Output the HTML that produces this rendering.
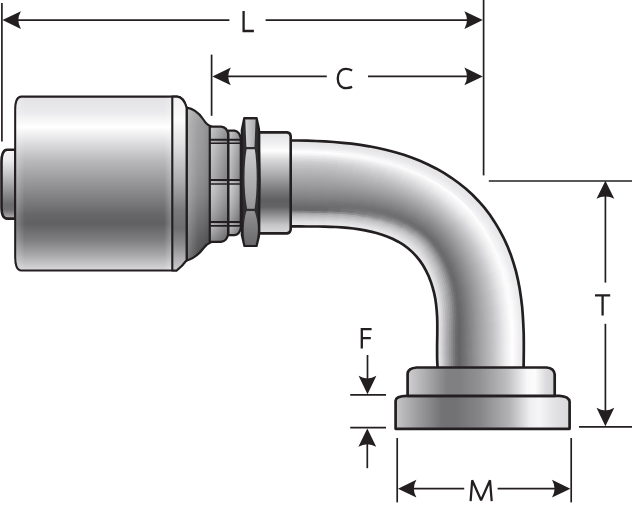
<!DOCTYPE html>
<html><head><meta charset="utf-8"><title>Fitting dimensions</title>
<style>
html,body{margin:0;padding:0;background:#fff;}
body{width:632px;height:508px;overflow:hidden;font-family:"Liberation Sans",sans-serif;}
svg{display:block;}
</style></head><body>
<svg width="632" height="508" viewBox="0 0 632 508">
<defs><linearGradient id="gFer" gradientUnits="userSpaceOnUse" x1="0" y1="96" x2="0" y2="271"><stop offset="0.000" stop-color="#e2e2e4"/><stop offset="0.091" stop-color="#eaeaec"/><stop offset="0.177" stop-color="#ffffff"/><stop offset="0.251" stop-color="#e4e4e6"/><stop offset="0.366" stop-color="#bababc"/><stop offset="0.537" stop-color="#8c8c8e"/><stop offset="0.680" stop-color="#666668"/><stop offset="0.731" stop-color="#616163"/><stop offset="0.823" stop-color="#7e7e80"/><stop offset="0.909" stop-color="#a8a8aa"/><stop offset="0.994" stop-color="#d8d8da"/></linearGradient><linearGradient id="gRing" gradientUnits="userSpaceOnUse" x1="0" y1="96" x2="0" y2="271"><stop offset="0.000" stop-color="#f0f0f2"/><stop offset="0.137" stop-color="#fcfcfc"/><stop offset="0.280" stop-color="#e0e0e2"/><stop offset="0.497" stop-color="#aaaaac"/><stop offset="0.651" stop-color="#7a7a7c"/><stop offset="0.754" stop-color="#6e6e70"/><stop offset="0.851" stop-color="#8c8c8e"/><stop offset="0.926" stop-color="#b0b0b2"/><stop offset="0.994" stop-color="#ccccce"/></linearGradient><linearGradient id="gStub" gradientUnits="userSpaceOnUse" x1="0" y1="150" x2="0" y2="218"><stop offset="0.000" stop-color="#f6f6f8"/><stop offset="0.132" stop-color="#eeeef0"/><stop offset="0.324" stop-color="#ccccce"/><stop offset="0.588" stop-color="#969698"/><stop offset="0.794" stop-color="#6c6c6e"/><stop offset="0.882" stop-color="#6e6e70"/><stop offset="1.000" stop-color="#b0b0b2"/></linearGradient><linearGradient id="gTaper" gradientUnits="userSpaceOnUse" x1="0" y1="107" x2="0" y2="259"><stop offset="0.000" stop-color="#a6a6a8"/><stop offset="0.118" stop-color="#9a9a9c"/><stop offset="0.283" stop-color="#969698"/><stop offset="0.447" stop-color="#8e8e90"/><stop offset="0.579" stop-color="#828284"/><stop offset="0.743" stop-color="#6a6a6c"/><stop offset="0.875" stop-color="#565658"/><stop offset="1.000" stop-color="#48484a"/></linearGradient><linearGradient id="gRib" gradientUnits="userSpaceOnUse" x1="0" y1="126" x2="0" y2="242"><stop offset="0.000" stop-color="#c8c8ca"/><stop offset="0.112" stop-color="#aaaaac"/><stop offset="0.147" stop-color="#bababc"/><stop offset="0.448" stop-color="#969698"/><stop offset="0.500" stop-color="#b0b0b2"/><stop offset="0.819" stop-color="#8a8a8c"/><stop offset="0.871" stop-color="#969698"/><stop offset="1.000" stop-color="#b0b0b2"/></linearGradient><linearGradient id="gCol" gradientUnits="userSpaceOnUse" x1="0" y1="132" x2="0" y2="234"><stop offset="0.000" stop-color="#e2e2e4"/><stop offset="0.088" stop-color="#ececee"/><stop offset="0.186" stop-color="#fdfdfd"/><stop offset="0.275" stop-color="#d8d8da"/><stop offset="0.422" stop-color="#aaaaac"/><stop offset="0.569" stop-color="#7a7a7c"/><stop offset="0.667" stop-color="#5f5f61"/><stop offset="0.735" stop-color="#646466"/><stop offset="0.824" stop-color="#969698"/><stop offset="0.912" stop-color="#c6c6c8"/><stop offset="1.000" stop-color="#dcdcde"/></linearGradient><linearGradient id="gFl1" gradientUnits="userSpaceOnUse" x1="407" y1="0" x2="555" y2="0"><stop offset="0.000" stop-color="#d0d0d2"/><stop offset="0.122" stop-color="#aeaeb0"/><stop offset="0.270" stop-color="#808082"/><stop offset="0.358" stop-color="#808082"/><stop offset="0.493" stop-color="#929294"/><stop offset="0.676" stop-color="#bebec0"/><stop offset="0.811" stop-color="#f8f8fa"/><stop offset="0.865" stop-color="#fcfcfc"/><stop offset="0.939" stop-color="#dcdcde"/><stop offset="1.000" stop-color="#d0d0d2"/></linearGradient><linearGradient id="gFl2" gradientUnits="userSpaceOnUse" x1="395" y1="0" x2="570" y2="0"><stop offset="0.000" stop-color="#c8c8ca"/><stop offset="0.114" stop-color="#a2a2a4"/><stop offset="0.269" stop-color="#727274"/><stop offset="0.349" stop-color="#727274"/><stop offset="0.486" stop-color="#868688"/><stop offset="0.657" stop-color="#b4b4b6"/><stop offset="0.771" stop-color="#eeeef0"/><stop offset="0.823" stop-color="#f6f6f8"/><stop offset="0.914" stop-color="#e2e2e4"/><stop offset="1.000" stop-color="#d8d8da"/></linearGradient><linearGradient id="gN1" gradientUnits="userSpaceOnUse" x1="0" y1="118" x2="0" y2="147"><stop offset="0.000" stop-color="#b0b0b2"/><stop offset="1.000" stop-color="#ceced0"/></linearGradient><linearGradient id="gN2" gradientUnits="userSpaceOnUse" x1="0" y1="149" x2="0" y2="209"><stop offset="0.000" stop-color="#ceced0"/><stop offset="0.517" stop-color="#b0b0b2"/><stop offset="1.000" stop-color="#969698"/></linearGradient><linearGradient id="gN3" gradientUnits="userSpaceOnUse" x1="0" y1="210" x2="0" y2="246"><stop offset="0.000" stop-color="#929294"/><stop offset="1.000" stop-color="#68686a"/></linearGradient><linearGradient id="gRib1" gradientUnits="userSpaceOnUse" x1="210" y1="0" x2="228" y2="0"><stop offset="0.000" stop-color="#c8c8ca"/><stop offset="1.000" stop-color="#8c8c8e"/></linearGradient><linearGradient id="gRib2" gradientUnits="userSpaceOnUse" x1="229" y1="0" x2="241" y2="0"><stop offset="0.000" stop-color="#ceced0"/><stop offset="1.000" stop-color="#8e8e90"/></linearGradient><linearGradient id="gRibV" gradientUnits="userSpaceOnUse" x1="0" y1="126" x2="0" y2="242"><stop offset="0" stop-color="#fff" stop-opacity="0.10"/><stop offset="0.14" stop-color="#000" stop-opacity="0.06"/><stop offset="0.15" stop-color="#fff" stop-opacity="0.12"/><stop offset="0.45" stop-color="#000" stop-opacity="0.10"/><stop offset="0.50" stop-color="#fff" stop-opacity="0.14"/><stop offset="0.82" stop-color="#000" stop-opacity="0.22"/><stop offset="0.86" stop-color="#000" stop-opacity="0.05"/><stop offset="1" stop-color="#000" stop-opacity="0.30"/></linearGradient><linearGradient id="gBevL" gradientUnits="userSpaceOnUse" x1="16" y1="0" x2="25" y2="0"><stop offset="0" stop-color="#fff" stop-opacity="0.22"/><stop offset="0.45" stop-color="#fff" stop-opacity="0.12"/><stop offset="1" stop-color="#fff" stop-opacity="0"/></linearGradient><linearGradient id="gBevR" gradientUnits="userSpaceOnUse" x1="164" y1="0" x2="171.5" y2="0"><stop offset="0" stop-color="#fff" stop-opacity="0"/><stop offset="1" stop-color="#fff" stop-opacity="0.24"/></linearGradient><linearGradient id="gN1h" gradientUnits="userSpaceOnUse" x1="245" y1="0" x2="256" y2="0"><stop offset="0.000" stop-color="#d4d4d6"/><stop offset="1.000" stop-color="#aaaaac"/></linearGradient></defs>
<rect width="632" height="508" fill="#fff"/>
<path d="M1.9,3 L1.9,141.5" stroke="#231f20" stroke-width="1.7" fill="none"/>
<path d="M483.6,0 L483.6,175.4" stroke="#231f20" stroke-width="1.7" fill="none"/>
<path d="M211.6,54.6 L211.6,115.8" stroke="#231f20" stroke-width="1.7" fill="none"/>
<path d="M488.8,181 L632,181" stroke="#231f20" stroke-width="1.7" fill="none"/>
<path d="M579,426.8 L632,426.8" stroke="#231f20" stroke-width="1.7" fill="none"/>
<path d="M350.2,394.8 L386,394.8" stroke="#231f20" stroke-width="1.7" fill="none"/>
<path d="M350.2,427.7 L386,427.7" stroke="#231f20" stroke-width="1.7" fill="none"/>
<path d="M397.2,438 L397.2,502.4" stroke="#231f20" stroke-width="1.7" fill="none"/>
<path d="M571.2,438 L571.2,502.4" stroke="#231f20" stroke-width="1.7" fill="none"/>
<path d="M17,20.1 L229.4,20.1" stroke="#231f20" stroke-width="1.7" fill="none"/>
<path d="M265.6,20.1 L468,20.1" stroke="#231f20" stroke-width="1.7" fill="none"/>
<path d="M2.5,20.1 L20.9,11.2 Q18.4,15.7 18.3,20.1 Q18.4,24.6 20.9,29 Z" fill="#231f20"/>
<path d="M482.8,20.1 L464.4,29 Q466.9,24.6 467,20.1 Q466.9,15.7 464.4,11.2 Z" fill="#231f20"/>
<path d="M226,76.4 L326.8,76.4" stroke="#231f20" stroke-width="1.7" fill="none"/>
<path d="M368,76.4 L468,76.4" stroke="#231f20" stroke-width="1.7" fill="none"/>
<path d="M212.4,76.4 L230.8,67.5 Q228.3,72 228.2,76.4 Q228.3,80.9 230.8,85.3 Z" fill="#231f20"/>
<path d="M482.8,76.4 L464.4,85.3 Q466.9,80.9 467,76.4 Q466.9,72 464.4,67.5 Z" fill="#231f20"/>
<path d="M605.4,196 L605.4,282.6" stroke="#231f20" stroke-width="1.7" fill="none"/>
<path d="M605.4,323.8 L605.4,412" stroke="#231f20" stroke-width="1.7" fill="none"/>
<path d="M605.4,180.7 L614.3,198.8 Q609.8,196.4 605.4,196.5 Q601,196.4 596.5,198.8 Z" fill="#231f20"/>
<path d="M605.4,426.2 L596.5,407.8 Q601,410.3 605.4,410.4 Q609.8,410.3 614.3,407.8 Z" fill="#231f20"/>
<path d="M367.5,355 L367.5,380" stroke="#231f20" stroke-width="1.7" fill="none"/>
<path d="M367.3,443 L367.3,468.2" stroke="#231f20" stroke-width="1.7" fill="none"/>
<path d="M367.5,394.2 L358.6,375.8 Q363.1,378.3 367.5,378.4 Q371.9,378.3 376.4,375.8 Z" fill="#231f20"/>
<path d="M367.3,428.4 L376.2,446.8 Q371.8,444.3 367.3,444.2 Q362.9,444.3 358.4,446.8 Z" fill="#231f20"/>
<path d="M412,488.7 L464.2,488.7" stroke="#231f20" stroke-width="1.7" fill="none"/>
<path d="M497.6,488.7 L556,488.7" stroke="#231f20" stroke-width="1.7" fill="none"/>
<path d="M398,488.7 L416.4,479.8 Q413.9,484.2 413.8,488.7 Q413.9,493.1 416.4,497.6 Z" fill="#231f20"/>
<path d="M570.4,488.7 L552,497.6 Q554.5,493.1 554.6,488.7 Q554.5,484.2 552,479.8 Z" fill="#231f20"/>
<path d="M243.6,11.1 V31 H253.9" stroke="#231f20" stroke-width="2.3" fill="none" stroke-linejoin="miter" stroke-linecap="butt"/>
<path d="M352.1,70.4 C350.2,69.4 348.2,68.85 345.9,68.85 C340.9,68.85 337.75,72.9 337.75,78.5 C337.75,84.1 340.9,88.15 346,88.15 C348.3,88.15 350.4,87.7 352.1,86.9" stroke="#231f20" stroke-width="2.3" fill="none" stroke-linejoin="miter" stroke-linecap="butt"/>
<path d="M595,295.3 H610.2 M602.6,295.3 V315.4" stroke="#231f20" stroke-width="2.3" fill="none" stroke-linejoin="miter" stroke-linecap="butt"/>
<path d="M371.6,329.1 H361.8 V348.5 M361.8,338.2 H370.8" stroke="#231f20" stroke-width="2.3" fill="none" stroke-linejoin="miter" stroke-linecap="butt"/>
<path d="M470.6,501.1 L472.2,480.3 L481.1,500.3 L490,480.3 L491.7,501.1" stroke="#231f20" stroke-width="2.25" fill="none" stroke-linejoin="bevel"/>
<clipPath id="tubeclip"><path d="M289.2,140.5 L298.1,140.5 L307.1,140.7 L316,141 L324.9,141.4 L333.8,142 L342.7,142.8 L351.5,143.7 L360.4,144.9 L369.2,146.3 L377.9,148 L386.6,150 L395.2,152.2 L403.8,154.8 L412.2,157.8 L420.5,161 L428.6,164.7 L436.5,168.7 L444.3,173.2 L451.8,178 L459,183.2 L465.9,188.8 L472.5,194.8 L478.7,201.2 L484.6,207.9 L490,215 L494.9,222.4 L499.5,230.1 L503.7,238 L507.4,246.1 L510.7,254.4 L513.5,262.8 L516,271.4 L518,280 L519.7,288.8 L521,297.6 L522.1,306.5 L522.8,315.3 L523.3,324.2 L523.7,333.2 L523.8,342.1 L523.8,351 L523.7,359.9 L523.6,368.8 L437.7,368.9 L437.3,363.1 L437.1,357.2 L437.1,351.3 L437.1,345.5 L437.2,339.6 L437.3,333.8 L437.3,327.9 L437.3,322 L437.1,316.2 L436.7,310.3 L436.1,304.5 L435.3,298.7 L434.1,292.9 L432.6,287.3 L430.8,281.7 L428.7,276.2 L426.1,270.9 L423.3,265.8 L420,260.9 L416.4,256.3 L412.4,252.1 L408,248.2 L403.2,244.7 L398.2,241.7 L393,239 L387.6,236.7 L382.1,234.8 L376.5,233 L370.8,231.6 L365,230.4 L359.3,229.4 L353.5,228.5 L347.6,227.9 L341.8,227.4 L335.9,227 L330.1,226.8 L324.2,226.6 L318.3,226.5 L312.5,226.5 L306.6,226.5 L300.8,226.4 L294.9,226.4 L289,226.3Z"/></clipPath>
<g clip-path="url(#tubeclip)" fill="none" stroke-linecap="butt">
<path d="M289.2,141.4 L298.1,141.5 L307,141.6 L315.9,141.9" stroke="#e3e3e5" stroke-width="3.2"/>
<path d="M307,141.6 L315.9,141.9 L324.7,142.3 L333.6,142.9" stroke="#e3e3e5" stroke-width="3.2"/>
<path d="M324.7,142.3 L333.6,142.9 L342.5,143.7 L351.3,144.6" stroke="#e3e3e5" stroke-width="3.2"/>
<path d="M342.5,143.7 L351.3,144.6 L360.1,145.8 L368.9,147.2" stroke="#e3e3e5" stroke-width="3.2"/>
<path d="M360.1,145.8 L368.9,147.2 L377.6,148.9 L386.2,150.8" stroke="#e3e3e5" stroke-width="3.2"/>
<path d="M377.6,148.9 L386.2,150.8 L394.8,153.1 L403.3,155.6" stroke="#e3e3e5" stroke-width="3.2"/>
<path d="M394.8,153.1 L403.3,155.6 L411.7,158.6 L420,161.8" stroke="#e4e4e6" stroke-width="3.2"/>
<path d="M411.7,158.6 L420,161.8 L428.1,165.5 L436,169.5" stroke="#e4e4e6" stroke-width="3.2"/>
<path d="M428.1,165.5 L436,169.5 L443.7,173.9 L451.2,178.7" stroke="#e4e4e6" stroke-width="3.2"/>
<path d="M443.7,173.9 L451.2,178.7 L458.4,183.9 L465.3,189.4" stroke="#e4e4e6" stroke-width="3.2"/>
<path d="M458.4,183.9 L465.3,189.4 L471.9,195.4 L478.1,201.8 L483.9,208.5" stroke="#e5e5e7" stroke-width="3.2"/>
<path d="M478.1,201.8 L483.9,208.5 L489.2,215.6 L494.2,223" stroke="#e5e5e7" stroke-width="3.2"/>
<path d="M489.2,215.6 L494.2,223 L498.7,230.6 L502.9,238.4" stroke="#e6e6e8" stroke-width="3.2"/>
<path d="M498.7,230.6 L502.9,238.4 L506.6,246.5 L509.8,254.8" stroke="#e6e6e8" stroke-width="3.2"/>
<path d="M506.6,246.5 L509.8,254.8 L512.7,263.2 L515.1,271.7" stroke="#e7e7e9" stroke-width="3.2"/>
<path d="M512.7,263.2 L515.1,271.7 L517.2,280.4 L518.8,289.1" stroke="#e8e8ea" stroke-width="3.2"/>
<path d="M517.2,280.4 L518.8,289.1 L520.1,297.9 L521.1,306.7" stroke="#e8e8ea" stroke-width="3.2"/>
<path d="M520.1,297.9 L521.1,306.7 L521.9,315.5 L522.4,324.4" stroke="#e9e9eb" stroke-width="3.2"/>
<path d="M521.9,315.5 L522.4,324.4 L522.7,333.3 L522.9,342.2" stroke="#e9e9eb" stroke-width="3.2"/>
<path d="M522.7,333.3 L522.9,342.2 L522.9,351.1 L522.8,359.9" stroke="#e9e9eb" stroke-width="3.2"/>
<path d="M522.9,351.1 L522.8,359.9 L522.6,368.8" stroke="#e9e9eb" stroke-width="3.2"/>
<path d="M289.2,143.3 L298,143.3 L306.9,143.5 L315.7,143.8" stroke="#e4e4e6" stroke-width="3.2"/>
<path d="M306.9,143.5 L315.7,143.8 L324.5,144.2 L333.3,144.8" stroke="#e4e4e6" stroke-width="3.2"/>
<path d="M324.5,144.2 L333.3,144.8 L342.1,145.5 L350.8,146.4" stroke="#e4e4e6" stroke-width="3.2"/>
<path d="M342.1,145.5 L350.8,146.4 L359.6,147.6 L368.3,149" stroke="#e4e4e6" stroke-width="3.2"/>
<path d="M359.6,147.6 L368.3,149 L376.9,150.6 L385.5,152.5" stroke="#e5e5e7" stroke-width="3.2"/>
<path d="M376.9,150.6 L385.5,152.5 L394.1,154.8 L402.5,157.3" stroke="#e5e5e7" stroke-width="3.2"/>
<path d="M394.1,154.8 L402.5,157.3 L410.8,160.2 L419,163.4" stroke="#e5e5e7" stroke-width="3.2"/>
<path d="M410.8,160.2 L419,163.4 L427.1,167 L434.9,171" stroke="#e5e5e7" stroke-width="3.2"/>
<path d="M427.1,167 L434.9,171 L442.6,175.3 L450,180.1" stroke="#e5e5e7" stroke-width="3.2"/>
<path d="M442.6,175.3 L450,180.1 L457.2,185.2 L464.1,190.7" stroke="#e5e5e7" stroke-width="3.2"/>
<path d="M457.2,185.2 L464.1,190.7 L470.6,196.7 L476.7,203 L482.5,209.7" stroke="#e6e6e8" stroke-width="3.2"/>
<path d="M476.7,203 L482.5,209.7 L487.8,216.7 L492.7,224" stroke="#e7e7e9" stroke-width="3.2"/>
<path d="M487.8,216.7 L492.7,224 L497.2,231.6 L501.3,239.4" stroke="#e7e7e9" stroke-width="3.2"/>
<path d="M497.2,231.6 L501.3,239.4 L504.9,247.4 L508.2,255.6" stroke="#e8e8ea" stroke-width="3.2"/>
<path d="M504.9,247.4 L508.2,255.6 L511,264 L513.4,272.4" stroke="#e9e9eb" stroke-width="3.2"/>
<path d="M511,264 L513.4,272.4 L515.4,281 L517,289.7" stroke="#e9e9eb" stroke-width="3.2"/>
<path d="M515.4,281 L517,289.7 L518.3,298.4 L519.3,307.2" stroke="#eaeaec" stroke-width="3.2"/>
<path d="M518.3,298.4 L519.3,307.2 L520,316 L520.5,324.8" stroke="#ebebed" stroke-width="3.2"/>
<path d="M520,316 L520.5,324.8 L520.8,333.6 L521,342.4" stroke="#ebebed" stroke-width="3.2"/>
<path d="M520.8,333.6 L521,342.4 L521,351.2 L520.9,360" stroke="#ebebed" stroke-width="3.2"/>
<path d="M521,351.2 L520.9,360 L520.8,368.8" stroke="#ebebed" stroke-width="3.2"/>
<path d="M289.2,145.1 L298,145.2 L306.7,145.4 L315.5,145.6" stroke="#e6e6e8" stroke-width="3.2"/>
<path d="M306.7,145.4 L315.5,145.6 L324.2,146 L332.9,146.6" stroke="#e6e6e8" stroke-width="3.2"/>
<path d="M324.2,146 L332.9,146.6 L341.7,147.3 L350.4,148.2" stroke="#e6e6e8" stroke-width="3.2"/>
<path d="M341.7,147.3 L350.4,148.2 L359,149.4 L367.7,150.7" stroke="#e6e6e8" stroke-width="3.2"/>
<path d="M359,149.4 L367.7,150.7 L376.3,152.4 L384.8,154.2" stroke="#e6e6e8" stroke-width="3.2"/>
<path d="M376.3,152.4 L384.8,154.2 L393.3,156.4 L401.7,158.9" stroke="#e6e6e8" stroke-width="3.2"/>
<path d="M393.3,156.4 L401.7,158.9 L409.9,161.8 L418.1,165" stroke="#e6e6e8" stroke-width="3.2"/>
<path d="M409.9,161.8 L418.1,165 L426.1,168.5 L433.9,172.4" stroke="#e6e6e8" stroke-width="3.2"/>
<path d="M426.1,168.5 L433.9,172.4 L441.5,176.7 L448.9,181.4" stroke="#e6e6e8" stroke-width="3.2"/>
<path d="M441.5,176.7 L448.9,181.4 L456,186.5 L462.8,192" stroke="#e7e7e9" stroke-width="3.2"/>
<path d="M456,186.5 L462.8,192 L469.3,197.9 L475.4,204.2 L481,210.8" stroke="#e7e7e9" stroke-width="3.2"/>
<path d="M475.4,204.2 L481,210.8 L486.3,217.8 L491.2,225.1" stroke="#e8e8ea" stroke-width="3.2"/>
<path d="M486.3,217.8 L491.2,225.1 L495.7,232.6 L499.7,240.3" stroke="#e9e9eb" stroke-width="3.2"/>
<path d="M495.7,232.6 L499.7,240.3 L503.3,248.3 L506.5,256.5" stroke="#eaeaec" stroke-width="3.2"/>
<path d="M503.3,248.3 L506.5,256.5 L509.3,264.7 L511.7,273.2" stroke="#eaeaec" stroke-width="3.2"/>
<path d="M509.3,264.7 L511.7,273.2 L513.6,281.7 L515.2,290.3" stroke="#ebebed" stroke-width="3.2"/>
<path d="M513.6,281.7 L515.2,290.3 L516.5,298.9 L517.5,307.6" stroke="#ececee" stroke-width="3.2"/>
<path d="M516.5,298.9 L517.5,307.6 L518.2,316.4 L518.7,325.1" stroke="#ededef" stroke-width="3.2"/>
<path d="M518.2,316.4 L518.7,325.1 L519,333.8 L519.1,342.6" stroke="#ededef" stroke-width="3.2"/>
<path d="M519,333.8 L519.1,342.6 L519.1,351.3 L519,360.1" stroke="#ededef" stroke-width="3.2"/>
<path d="M519.1,351.3 L519,360.1 L518.9,368.8" stroke="#ededef" stroke-width="3.2"/>
<path d="M289.2,147 L297.9,147.1 L306.6,147.2 L315.3,147.5" stroke="#eaeaec" stroke-width="3.2"/>
<path d="M306.6,147.2 L315.3,147.5 L323.9,147.9 L332.6,148.4" stroke="#eaeaec" stroke-width="3.2"/>
<path d="M323.9,147.9 L332.6,148.4 L341.3,149.1 L349.9,150" stroke="#eaeaec" stroke-width="3.2"/>
<path d="M341.3,149.1 L349.9,150 L358.5,151.2 L367.1,152.5" stroke="#e9e9eb" stroke-width="3.2"/>
<path d="M358.5,151.2 L367.1,152.5 L375.6,154.1 L384.1,156" stroke="#e9e9eb" stroke-width="3.2"/>
<path d="M375.6,154.1 L384.1,156 L392.5,158.1 L400.8,160.6" stroke="#e9e9eb" stroke-width="3.2"/>
<path d="M392.5,158.1 L400.8,160.6 L409,163.4 L417.1,166.5" stroke="#e9e9eb" stroke-width="3.2"/>
<path d="M409,163.4 L417.1,166.5 L425,170 L432.8,173.9" stroke="#e8e8ea" stroke-width="3.2"/>
<path d="M425,170 L432.8,173.9 L440.4,178.2 L447.7,182.8" stroke="#e8e8ea" stroke-width="3.2"/>
<path d="M440.4,178.2 L447.7,182.8 L454.8,187.9 L461.5,193.3" stroke="#e8e8ea" stroke-width="3.2"/>
<path d="M454.8,187.9 L461.5,193.3 L468,199.1 L474,205.4 L479.6,212" stroke="#e8e8ea" stroke-width="3.2"/>
<path d="M474,205.4 L479.6,212 L484.9,218.9 L489.7,226.1" stroke="#eaeaec" stroke-width="3.2"/>
<path d="M484.9,218.9 L489.7,226.1 L494.1,233.6 L498.1,241.3" stroke="#ebebed" stroke-width="3.2"/>
<path d="M494.1,233.6 L498.1,241.3 L501.7,249.2 L504.8,257.3" stroke="#ececee" stroke-width="3.2"/>
<path d="M501.7,249.2 L504.8,257.3 L507.6,265.5 L509.9,273.9" stroke="#ededef" stroke-width="3.2"/>
<path d="M507.6,265.5 L509.9,273.9 L511.8,282.3 L513.4,290.9" stroke="#eeeef0" stroke-width="3.2"/>
<path d="M511.8,282.3 L513.4,290.9 L514.7,299.5 L515.6,308.1" stroke="#f0f0f2" stroke-width="3.2"/>
<path d="M514.7,299.5 L515.6,308.1 L516.3,316.8 L516.8,325.4" stroke="#f1f1f3" stroke-width="3.2"/>
<path d="M516.3,316.8 L516.8,325.4 L517.1,334.1 L517.2,342.8" stroke="#f2f2f4" stroke-width="3.2"/>
<path d="M517.1,334.1 L517.2,342.8 L517.2,351.5 L517.2,360.1" stroke="#f2f2f4" stroke-width="3.2"/>
<path d="M517.2,351.5 L517.2,360.1 L517,368.8" stroke="#f2f2f4" stroke-width="3.2"/>
<path d="M289.2,148.9 L297.8,148.9 L306.4,149.1 L315.1,149.3" stroke="#eeeef0" stroke-width="3.2"/>
<path d="M306.4,149.1 L315.1,149.3 L323.7,149.7 L332.3,150.3" stroke="#eeeef0" stroke-width="3.2"/>
<path d="M323.7,149.7 L332.3,150.3 L340.8,151 L349.4,151.8" stroke="#eeeef0" stroke-width="3.2"/>
<path d="M340.8,151 L349.4,151.8 L358,152.9 L366.5,154.3" stroke="#eeeef0" stroke-width="3.2"/>
<path d="M358,152.9 L366.5,154.3 L374.9,155.8 L383.4,157.7" stroke="#ededef" stroke-width="3.2"/>
<path d="M374.9,155.8 L383.4,157.7 L391.7,159.8 L400,162.2" stroke="#ededef" stroke-width="3.2"/>
<path d="M391.7,159.8 L400,162.2 L408.1,165 L416.2,168.1" stroke="#ececee" stroke-width="3.2"/>
<path d="M408.1,165 L416.2,168.1 L424,171.6 L431.7,175.4" stroke="#ececee" stroke-width="3.2"/>
<path d="M424,171.6 L431.7,175.4 L439.3,179.6 L446.5,184.2" stroke="#ebebed" stroke-width="3.2"/>
<path d="M439.3,179.6 L446.5,184.2 L453.6,189.2 L460.3,194.6" stroke="#ebebed" stroke-width="3.2"/>
<path d="M453.6,189.2 L460.3,194.6 L466.7,200.4 L472.6,206.6 L478.2,213.1" stroke="#ebebed" stroke-width="3.2"/>
<path d="M472.6,206.6 L478.2,213.1 L483.4,220 L488.2,227.2" stroke="#ededef" stroke-width="3.2"/>
<path d="M483.4,220 L488.2,227.2 L492.6,234.6 L496.5,242.2" stroke="#eeeef0" stroke-width="3.2"/>
<path d="M492.6,234.6 L496.5,242.2 L500.1,250.1 L503.2,258.1" stroke="#f0f0f2" stroke-width="3.2"/>
<path d="M500.1,250.1 L503.2,258.1 L505.9,266.3 L508.2,274.6" stroke="#f1f1f3" stroke-width="3.2"/>
<path d="M505.9,266.3 L508.2,274.6 L510.1,283 L511.6,291.5" stroke="#f2f2f4" stroke-width="3.2"/>
<path d="M510.1,283 L511.6,291.5 L512.8,300 L513.8,308.6" stroke="#f4f4f6" stroke-width="3.2"/>
<path d="M512.8,300 L513.8,308.6 L514.5,317.2 L514.9,325.8" stroke="#f5f5f7" stroke-width="3.2"/>
<path d="M514.5,317.2 L514.9,325.8 L515.2,334.4 L515.3,343" stroke="#f6f6f8" stroke-width="3.2"/>
<path d="M515.2,334.4 L515.3,343 L515.3,351.6 L515.3,360.2" stroke="#f6f6f8" stroke-width="3.2"/>
<path d="M515.3,351.6 L515.3,360.2 L515.2,368.8" stroke="#f6f6f8" stroke-width="3.2"/>
<path d="M289.2,150.7 L297.8,150.8 L306.3,150.9 L314.9,151.2" stroke="#f7f7f8" stroke-width="3.2"/>
<path d="M306.3,150.9 L314.9,151.2 L323.4,151.6 L331.9,152.1" stroke="#f7f7f8" stroke-width="3.2"/>
<path d="M323.4,151.6 L331.9,152.1 L340.4,152.8 L349,153.7" stroke="#f7f7f8" stroke-width="3.2"/>
<path d="M340.4,152.8 L349,153.7 L357.4,154.7 L365.9,156" stroke="#f6f6f7" stroke-width="3.2"/>
<path d="M357.4,154.7 L365.9,156 L374.3,157.6 L382.6,159.4" stroke="#f5f5f6" stroke-width="3.2"/>
<path d="M374.3,157.6 L382.6,159.4 L390.9,161.5 L399.1,163.9" stroke="#f3f3f5" stroke-width="3.2"/>
<path d="M390.9,161.5 L399.1,163.9 L407.2,166.6 L415.2,169.7" stroke="#f2f2f4" stroke-width="3.2"/>
<path d="M407.2,166.6 L415.2,169.7 L423,173.1 L430.7,176.9" stroke="#f1f1f3" stroke-width="3.2"/>
<path d="M423,173.1 L430.7,176.9 L438.1,181 L445.4,185.6" stroke="#f0f0f1" stroke-width="3.2"/>
<path d="M438.1,181 L445.4,185.6 L452.3,190.5 L459,195.9" stroke="#efeff0" stroke-width="3.2"/>
<path d="M452.3,190.5 L459,195.9 L465.3,201.6 L471.3,207.8 L476.8,214.3" stroke="#eeeef0" stroke-width="3.2"/>
<path d="M471.3,207.8 L476.8,214.3 L482,221.1 L486.7,228.2" stroke="#f0f0f2" stroke-width="3.2"/>
<path d="M482,221.1 L486.7,228.2 L491,235.6 L494.9,243.2" stroke="#f2f2f3" stroke-width="3.2"/>
<path d="M491,235.6 L494.9,243.2 L498.4,251 L501.5,259" stroke="#f3f3f5" stroke-width="3.2"/>
<path d="M498.4,251 L501.5,259 L504.2,267.1 L506.4,275.3" stroke="#f5f5f7" stroke-width="3.2"/>
<path d="M504.2,267.1 L506.4,275.3 L508.3,283.7 L509.8,292.1" stroke="#f7f7f8" stroke-width="3.2"/>
<path d="M508.3,283.7 L509.8,292.1 L511,300.5 L511.9,309" stroke="#f9f9fa" stroke-width="3.2"/>
<path d="M511,300.5 L511.9,309 L512.6,317.6 L513,326.1" stroke="#fafafb" stroke-width="3.2"/>
<path d="M512.6,317.6 L513,326.1 L513.3,334.6 L513.4,343.2" stroke="#fbfbfc" stroke-width="3.2"/>
<path d="M513.3,334.6 L513.4,343.2 L513.5,351.7 L513.4,360.3" stroke="#fbfbfc" stroke-width="3.2"/>
<path d="M513.5,351.7 L513.4,360.3 L513.3,368.8" stroke="#fbfbfc" stroke-width="3.2"/>
<path d="M289.2,152.6 L297.7,152.7 L306.2,152.8 L314.6,153.1" stroke="#fdfdfe" stroke-width="3.2"/>
<path d="M306.2,152.8 L314.6,153.1 L323.1,153.4 L331.6,153.9" stroke="#fdfdfe" stroke-width="3.2"/>
<path d="M323.1,153.4 L331.6,153.9 L340,154.6 L348.5,155.5" stroke="#fdfdfd" stroke-width="3.2"/>
<path d="M340,154.6 L348.5,155.5 L356.9,156.5 L365.3,157.8" stroke="#fbfbfc" stroke-width="3.2"/>
<path d="M356.9,156.5 L365.3,157.8 L373.6,159.3 L381.9,161.1" stroke="#fafafb" stroke-width="3.2"/>
<path d="M373.6,159.3 L381.9,161.1 L390.1,163.1 L398.3,165.5" stroke="#f8f8f9" stroke-width="3.2"/>
<path d="M390.1,163.1 L398.3,165.5 L406.3,168.2 L414.2,171.2" stroke="#f7f7f8" stroke-width="3.2"/>
<path d="M406.3,168.2 L414.2,171.2 L422,174.6 L429.6,178.4" stroke="#f5f5f7" stroke-width="3.2"/>
<path d="M422,174.6 L429.6,178.4 L437,182.5 L444.2,187" stroke="#f4f4f5" stroke-width="3.2"/>
<path d="M437,182.5 L444.2,187 L451.1,191.9 L457.8,197.2" stroke="#f2f2f4" stroke-width="3.2"/>
<path d="M451.1,191.9 L457.8,197.2 L464,202.9 L469.9,209 L475.4,215.4" stroke="#f1f1f3" stroke-width="3.2"/>
<path d="M469.9,209 L475.4,215.4 L480.5,222.2 L485.2,229.3" stroke="#f3f3f5" stroke-width="3.2"/>
<path d="M480.5,222.2 L485.2,229.3 L489.5,236.6 L493.4,244.1" stroke="#f5f5f6" stroke-width="3.2"/>
<path d="M489.5,236.6 L493.4,244.1 L496.8,251.9 L499.9,259.8" stroke="#f6f6f8" stroke-width="3.2"/>
<path d="M496.8,251.9 L499.9,259.8 L502.5,267.9 L504.7,276" stroke="#f8f8f9" stroke-width="3.2"/>
<path d="M502.5,267.9 L504.7,276 L506.5,284.3 L508,292.7" stroke="#fafafa" stroke-width="3.2"/>
<path d="M506.5,284.3 L508,292.7 L509.2,301.1 L510.1,309.5" stroke="#fbfbfc" stroke-width="3.2"/>
<path d="M509.2,301.1 L510.1,309.5 L510.7,318 L511.2,326.4" stroke="#fdfdfd" stroke-width="3.2"/>
<path d="M510.7,318 L511.2,326.4 L511.4,334.9 L511.6,343.4" stroke="#fefefe" stroke-width="3.2"/>
<path d="M511.4,334.9 L511.6,343.4 L511.6,351.9 L511.5,360.3" stroke="#fefefe" stroke-width="3.2"/>
<path d="M511.6,351.9 L511.5,360.3 L511.4,368.8" stroke="#fefefe" stroke-width="3.2"/>
<path d="M289.2,154.5 L297.6,154.5 L306,154.7 L314.4,154.9" stroke="#f7f7f8" stroke-width="3.2"/>
<path d="M306,154.7 L314.4,154.9 L322.9,155.3 L331.3,155.8" stroke="#f7f7f8" stroke-width="3.2"/>
<path d="M322.9,155.3 L331.3,155.8 L339.6,156.4 L348,157.3" stroke="#f7f7f9" stroke-width="3.2"/>
<path d="M339.6,156.4 L348,157.3 L356.4,158.3 L364.7,159.5" stroke="#f8f8f9" stroke-width="3.2"/>
<path d="M356.4,158.3 L364.7,159.5 L373,161 L381.2,162.8" stroke="#f9f9fa" stroke-width="3.2"/>
<path d="M373,161 L381.2,162.8 L389.4,164.8 L397.4,167.1" stroke="#f9f9fb" stroke-width="3.2"/>
<path d="M389.4,164.8 L397.4,167.1 L405.4,169.8 L413.3,172.8" stroke="#fafafb" stroke-width="3.2"/>
<path d="M405.4,169.8 L413.3,172.8 L421,176.1 L428.6,179.8" stroke="#fbfbfc" stroke-width="3.2"/>
<path d="M421,176.1 L428.6,179.8 L435.9,183.9 L443,188.4" stroke="#fcfcfd" stroke-width="3.2"/>
<path d="M435.9,183.9 L443,188.4 L449.9,193.2 L456.5,198.5" stroke="#fdfdfd" stroke-width="3.2"/>
<path d="M449.9,193.2 L456.5,198.5 L462.7,204.1 L468.6,210.2 L474,216.6" stroke="#fefefe" stroke-width="3.2"/>
<path d="M468.6,210.2 L474,216.6 L479.1,223.3 L483.7,230.3" stroke="#fdfdfd" stroke-width="3.2"/>
<path d="M479.1,223.3 L483.7,230.3 L488,237.6 L491.8,245.1" stroke="#fdfdfd" stroke-width="3.2"/>
<path d="M488,237.6 L491.8,245.1 L495.2,252.8 L498.2,260.6" stroke="#fcfcfc" stroke-width="3.2"/>
<path d="M495.2,252.8 L498.2,260.6 L500.8,268.6 L503,276.8" stroke="#fcfcfc" stroke-width="3.2"/>
<path d="M500.8,268.6 L503,276.8 L504.8,285 L506.2,293.3" stroke="#fbfbfc" stroke-width="3.2"/>
<path d="M504.8,285 L506.2,293.3 L507.4,301.6 L508.2,310" stroke="#fbfbfb" stroke-width="3.2"/>
<path d="M507.4,301.6 L508.2,310 L508.9,318.4 L509.3,326.8" stroke="#fbfbfb" stroke-width="3.2"/>
<path d="M508.9,318.4 L509.3,326.8 L509.6,335.2 L509.7,343.6" stroke="#fafafa" stroke-width="3.2"/>
<path d="M509.6,335.2 L509.7,343.6 L509.7,352 L509.6,360.4" stroke="#fafafa" stroke-width="3.2"/>
<path d="M509.7,352 L509.6,360.4 L509.6,368.8" stroke="#fafafa" stroke-width="3.2"/>
<path d="M289.2,156.3 L297.5,156.4 L305.9,156.5 L314.2,156.8" stroke="#ececee" stroke-width="3.2"/>
<path d="M305.9,156.5 L314.2,156.8 L322.6,157.1 L330.9,157.6" stroke="#ececee" stroke-width="3.2"/>
<path d="M322.6,157.1 L330.9,157.6 L339.2,158.3 L347.6,159.1" stroke="#ececee" stroke-width="3.2"/>
<path d="M339.2,158.3 L347.6,159.1 L355.8,160.1 L364.1,161.3" stroke="#eeeef0" stroke-width="3.2"/>
<path d="M355.8,160.1 L364.1,161.3 L372.3,162.8 L380.5,164.5" stroke="#f0f0f1" stroke-width="3.2"/>
<path d="M372.3,162.8 L380.5,164.5 L388.6,166.5 L396.6,168.8" stroke="#f2f2f3" stroke-width="3.2"/>
<path d="M388.6,166.5 L396.6,168.8 L404.5,171.4 L412.3,174.4" stroke="#f4f4f5" stroke-width="3.2"/>
<path d="M404.5,171.4 L412.3,174.4 L420,177.7 L427.5,181.3" stroke="#f5f5f6" stroke-width="3.2"/>
<path d="M420,177.7 L427.5,181.3 L434.8,185.3 L441.9,189.8" stroke="#f7f7f8" stroke-width="3.2"/>
<path d="M434.8,185.3 L441.9,189.8 L448.7,194.6 L455.2,199.8" stroke="#f9f9f9" stroke-width="3.2"/>
<path d="M448.7,194.6 L455.2,199.8 L461.4,205.4 L467.2,211.4 L472.6,217.7" stroke="#fbfbfb" stroke-width="3.2"/>
<path d="M467.2,211.4 L472.6,217.7 L477.6,224.4 L482.2,231.4" stroke="#fafafa" stroke-width="3.2"/>
<path d="M477.6,224.4 L482.2,231.4 L486.4,238.6 L490.2,246" stroke="#f9f9f9" stroke-width="3.2"/>
<path d="M486.4,238.6 L490.2,246 L493.6,253.7 L496.5,261.5" stroke="#f9f9f9" stroke-width="3.2"/>
<path d="M493.6,253.7 L496.5,261.5 L499.1,269.4 L501.2,277.5" stroke="#f8f8f8" stroke-width="3.2"/>
<path d="M499.1,269.4 L501.2,277.5 L503,285.6 L504.4,293.9" stroke="#f7f7f7" stroke-width="3.2"/>
<path d="M503,285.6 L504.4,293.9 L505.6,302.1 L506.4,310.4" stroke="#f6f6f7" stroke-width="3.2"/>
<path d="M505.6,302.1 L506.4,310.4 L507,318.8 L507.4,327.1" stroke="#f6f6f6" stroke-width="3.2"/>
<path d="M507,318.8 L507.4,327.1 L507.7,335.4 L507.8,343.8" stroke="#f5f5f6" stroke-width="3.2"/>
<path d="M507.7,335.4 L507.8,343.8 L507.8,352.1 L507.8,360.5" stroke="#f5f5f6" stroke-width="3.2"/>
<path d="M507.8,352.1 L507.8,360.5 L507.7,368.8" stroke="#f5f5f6" stroke-width="3.2"/>
<path d="M289.2,158.2 L297.5,158.3 L305.8,158.4 L314,158.6" stroke="#e2e2e4" stroke-width="3.2"/>
<path d="M305.8,158.4 L314,158.6 L322.3,159 L330.6,159.5" stroke="#e2e2e4" stroke-width="3.2"/>
<path d="M322.3,159 L330.6,159.5 L338.8,160.1 L347.1,160.9" stroke="#e2e2e4" stroke-width="3.2"/>
<path d="M338.8,160.1 L347.1,160.9 L355.3,161.9 L363.5,163.1" stroke="#e5e5e6" stroke-width="3.2"/>
<path d="M355.3,161.9 L363.5,163.1 L371.7,164.5 L379.8,166.2" stroke="#e7e7e9" stroke-width="3.2"/>
<path d="M371.7,164.5 L379.8,166.2 L387.8,168.2 L395.8,170.4" stroke="#eaeaeb" stroke-width="3.2"/>
<path d="M387.8,168.2 L395.8,170.4 L403.6,173 L411.4,175.9" stroke="#ececed" stroke-width="3.2"/>
<path d="M403.6,173 L411.4,175.9 L419,179.2 L426.4,182.8" stroke="#efeff0" stroke-width="3.2"/>
<path d="M419,179.2 L426.4,182.8 L433.7,186.8 L440.7,191.1" stroke="#f1f1f2" stroke-width="3.2"/>
<path d="M433.7,186.8 L440.7,191.1 L447.5,195.9 L454,201.1" stroke="#f4f4f5" stroke-width="3.2"/>
<path d="M447.5,195.9 L454,201.1 L460.1,206.6 L465.9,212.6 L471.2,218.9" stroke="#f6f6f7" stroke-width="3.2"/>
<path d="M465.9,212.6 L471.2,218.9 L476.2,225.5 L480.7,232.4" stroke="#f5f5f6" stroke-width="3.2"/>
<path d="M476.2,225.5 L480.7,232.4 L484.9,239.6 L488.6,247" stroke="#f5f5f5" stroke-width="3.2"/>
<path d="M484.9,239.6 L488.6,247 L491.9,254.6 L494.9,262.3" stroke="#f4f4f4" stroke-width="3.2"/>
<path d="M491.9,254.6 L494.9,262.3 L497.4,270.2 L499.5,278.2" stroke="#f3f3f4" stroke-width="3.2"/>
<path d="M497.4,270.2 L499.5,278.2 L501.2,286.3 L502.6,294.4" stroke="#f2f2f3" stroke-width="3.2"/>
<path d="M501.2,286.3 L502.6,294.4 L503.7,302.7 L504.6,310.9" stroke="#f1f1f2" stroke-width="3.2"/>
<path d="M503.7,302.7 L504.6,310.9 L505.2,319.2 L505.6,327.4" stroke="#f1f1f2" stroke-width="3.2"/>
<path d="M505.2,319.2 L505.6,327.4 L505.8,335.7 L505.9,344" stroke="#f0f0f1" stroke-width="3.2"/>
<path d="M505.8,335.7 L505.9,344 L505.9,352.3 L505.9,360.6" stroke="#f0f0f1" stroke-width="3.2"/>
<path d="M505.9,352.3 L505.9,360.6 L505.8,368.8" stroke="#f0f0f1" stroke-width="3.2"/>
<path d="M289.2,160.1 L297.4,160.1 L305.6,160.3 L313.8,160.5" stroke="#dadadc" stroke-width="3.2"/>
<path d="M305.6,160.3 L313.8,160.5 L322,160.8 L330.3,161.3" stroke="#dadadc" stroke-width="3.2"/>
<path d="M322,160.8 L330.3,161.3 L338.4,161.9 L346.6,162.7" stroke="#dadadc" stroke-width="3.2"/>
<path d="M338.4,161.9 L346.6,162.7 L354.8,163.7 L362.9,164.8" stroke="#dddddf" stroke-width="3.2"/>
<path d="M354.8,163.7 L362.9,164.8 L371,166.2 L379,167.9" stroke="#e0e0e2" stroke-width="3.2"/>
<path d="M371,166.2 L379,167.9 L387,169.8 L394.9,172.1" stroke="#e3e3e5" stroke-width="3.2"/>
<path d="M387,169.8 L394.9,172.1 L402.7,174.6 L410.4,177.5" stroke="#e6e6e7" stroke-width="3.2"/>
<path d="M402.7,174.6 L410.4,177.5 L418,180.7 L425.4,184.3" stroke="#e9e9ea" stroke-width="3.2"/>
<path d="M418,180.7 L425.4,184.3 L432.6,188.2 L439.6,192.5" stroke="#ececed" stroke-width="3.2"/>
<path d="M432.6,188.2 L439.6,192.5 L446.3,197.2 L452.7,202.3" stroke="#efeff0" stroke-width="3.2"/>
<path d="M446.3,197.2 L452.7,202.3 L458.8,207.9 L464.5,213.8 L469.8,220" stroke="#f2f2f3" stroke-width="3.2"/>
<path d="M464.5,213.8 L469.8,220 L474.7,226.6 L479.2,233.5" stroke="#f1f1f2" stroke-width="3.2"/>
<path d="M474.7,226.6 L479.2,233.5 L483.3,240.6 L487,247.9" stroke="#f0f0f1" stroke-width="3.2"/>
<path d="M483.3,240.6 L487,247.9 L490.3,255.5 L493.2,263.2" stroke="#efeff0" stroke-width="3.2"/>
<path d="M490.3,255.5 L493.2,263.2 L495.7,271 L497.8,278.9" stroke="#eeeeef" stroke-width="3.2"/>
<path d="M495.7,271 L497.8,278.9 L499.5,287 L500.8,295" stroke="#ededef" stroke-width="3.2"/>
<path d="M499.5,287 L500.8,295 L501.9,303.2 L502.7,311.4" stroke="#ececee" stroke-width="3.2"/>
<path d="M501.9,303.2 L502.7,311.4 L503.3,319.6 L503.7,327.8" stroke="#ebebed" stroke-width="3.2"/>
<path d="M503.3,319.6 L503.7,327.8 L503.9,336 L504,344.2" stroke="#ebebed" stroke-width="3.2"/>
<path d="M503.9,336 L504,344.2 L504,352.4 L504,360.6" stroke="#ebebed" stroke-width="3.2"/>
<path d="M504,352.4 L504,360.6 L504,368.8" stroke="#ebebed" stroke-width="3.2"/>
<path d="M289.2,161.9 L297.3,162 L305.5,162.1 L313.6,162.4" stroke="#d1d1d3" stroke-width="3.2"/>
<path d="M305.5,162.1 L313.6,162.4 L321.8,162.7 L329.9,163.1" stroke="#d1d1d3" stroke-width="3.2"/>
<path d="M321.8,162.7 L329.9,163.1 L338,163.7 L346.2,164.5" stroke="#d2d2d4" stroke-width="3.2"/>
<path d="M338,163.7 L346.2,164.5 L354.2,165.4 L362.3,166.6" stroke="#d5d5d7" stroke-width="3.2"/>
<path d="M354.2,165.4 L362.3,166.6 L370.3,168 L378.3,169.6" stroke="#d9d9db" stroke-width="3.2"/>
<path d="M370.3,168 L378.3,169.6 L386.2,171.5 L394.1,173.7" stroke="#dcdcde" stroke-width="3.2"/>
<path d="M386.2,171.5 L394.1,173.7 L401.8,176.2 L409.5,179" stroke="#e0e0e1" stroke-width="3.2"/>
<path d="M401.8,176.2 L409.5,179 L417,182.2 L424.3,185.7" stroke="#e3e3e5" stroke-width="3.2"/>
<path d="M417,182.2 L424.3,185.7 L431.5,189.6 L438.4,193.9" stroke="#e6e6e8" stroke-width="3.2"/>
<path d="M431.5,189.6 L438.4,193.9 L445.1,198.6 L451.5,203.6" stroke="#eaeaeb" stroke-width="3.2"/>
<path d="M445.1,198.6 L451.5,203.6 L457.5,209.1 L463.2,215 L468.4,221.2" stroke="#ededef" stroke-width="3.2"/>
<path d="M463.2,215 L468.4,221.2 L473.3,227.7 L477.7,234.6" stroke="#ececed" stroke-width="3.2"/>
<path d="M473.3,227.7 L477.7,234.6 L481.8,241.6 L485.4,248.9" stroke="#ebebec" stroke-width="3.2"/>
<path d="M481.8,241.6 L485.4,248.9 L488.7,256.4 L491.5,264" stroke="#eaeaeb" stroke-width="3.2"/>
<path d="M488.7,256.4 L491.5,264 L494,271.8 L496,279.6" stroke="#e9e9ea" stroke-width="3.2"/>
<path d="M494,271.8 L496,279.6 L497.7,287.6 L499,295.6" stroke="#e8e8ea" stroke-width="3.2"/>
<path d="M497.7,287.6 L499,295.6 L500.1,303.7 L500.9,311.8" stroke="#e7e7e9" stroke-width="3.2"/>
<path d="M500.1,303.7 L500.9,311.8 L501.4,320 L501.8,328.1" stroke="#e6e6e8" stroke-width="3.2"/>
<path d="M501.4,320 L501.8,328.1 L502,336.2 L502.1,344.4" stroke="#e5e5e7" stroke-width="3.2"/>
<path d="M502,336.2 L502.1,344.4 L502.2,352.5 L502.1,360.7" stroke="#e5e5e7" stroke-width="3.2"/>
<path d="M502.2,352.5 L502.1,360.7 L502.1,368.8" stroke="#e5e5e7" stroke-width="3.2"/>
<path d="M289.2,163.8 L297.3,163.9 L305.3,164 L313.4,164.2" stroke="#cacacc" stroke-width="3.2"/>
<path d="M305.3,164 L313.4,164.2 L321.5,164.5 L329.6,165" stroke="#cacacc" stroke-width="3.2"/>
<path d="M321.5,164.5 L329.6,165 L337.6,165.6 L345.7,166.3" stroke="#cacacc" stroke-width="3.2"/>
<path d="M337.6,165.6 L345.7,166.3 L353.7,167.2 L361.7,168.4" stroke="#ceced0" stroke-width="3.2"/>
<path d="M353.7,167.2 L361.7,168.4 L369.7,169.7 L377.6,171.3" stroke="#d2d2d4" stroke-width="3.2"/>
<path d="M369.7,169.7 L377.6,171.3 L385.5,173.2 L393.2,175.4" stroke="#d6d6d8" stroke-width="3.2"/>
<path d="M385.5,173.2 L393.2,175.4 L400.9,177.8 L408.5,180.6" stroke="#d9d9db" stroke-width="3.2"/>
<path d="M400.9,177.8 L408.5,180.6 L415.9,183.7 L423.2,187.2" stroke="#dddddf" stroke-width="3.2"/>
<path d="M415.9,183.7 L423.2,187.2 L430.3,191.1 L437.2,195.3" stroke="#e1e1e3" stroke-width="3.2"/>
<path d="M430.3,191.1 L437.2,195.3 L443.9,199.9 L450.2,204.9" stroke="#e5e5e7" stroke-width="3.2"/>
<path d="M443.9,199.9 L450.2,204.9 L456.2,210.4 L461.8,216.2 L467,222.3" stroke="#e8e8ea" stroke-width="3.2"/>
<path d="M461.8,216.2 L467,222.3 L471.8,228.8 L476.2,235.6" stroke="#e7e7e9" stroke-width="3.2"/>
<path d="M471.8,228.8 L476.2,235.6 L480.3,242.6 L483.9,249.8" stroke="#e5e5e7" stroke-width="3.2"/>
<path d="M480.3,242.6 L483.9,249.8 L487.1,257.3 L489.9,264.8" stroke="#e4e4e6" stroke-width="3.2"/>
<path d="M487.1,257.3 L489.9,264.8 L492.3,272.5 L494.3,280.4" stroke="#e3e3e5" stroke-width="3.2"/>
<path d="M492.3,272.5 L494.3,280.4 L495.9,288.3 L497.3,296.2" stroke="#e2e2e4" stroke-width="3.2"/>
<path d="M495.9,288.3 L497.3,296.2 L498.3,304.2 L499,312.3" stroke="#e1e1e3" stroke-width="3.2"/>
<path d="M498.3,304.2 L499,312.3 L499.6,320.4 L499.9,328.4" stroke="#dfdfe1" stroke-width="3.2"/>
<path d="M499.6,320.4 L499.9,328.4 L500.2,336.5 L500.3,344.6" stroke="#dedee0" stroke-width="3.2"/>
<path d="M500.2,336.5 L500.3,344.6 L500.3,352.7 L500.3,360.8" stroke="#dedee0" stroke-width="3.2"/>
<path d="M500.3,352.7 L500.3,360.8 L500.2,368.8" stroke="#dedee0" stroke-width="3.2"/>
<path d="M289.2,165.7 L297.2,165.7 L305.2,165.9 L313.2,166.1" stroke="#c5c5c7" stroke-width="3.2"/>
<path d="M305.2,165.9 L313.2,166.1 L321.2,166.4 L329.2,166.8" stroke="#c5c5c7" stroke-width="3.2"/>
<path d="M321.2,166.4 L329.2,166.8 L337.2,167.4 L345.2,168.1" stroke="#c6c6c8" stroke-width="3.2"/>
<path d="M337.2,167.4 L345.2,168.1 L353.2,169 L361.1,170.1" stroke="#c9c9cb" stroke-width="3.2"/>
<path d="M353.2,169 L361.1,170.1 L369,171.5 L376.9,173" stroke="#cdcdcf" stroke-width="3.2"/>
<path d="M369,171.5 L376.9,173 L384.7,174.9 L392.4,177" stroke="#d0d0d2" stroke-width="3.2"/>
<path d="M384.7,174.9 L392.4,177 L400,179.4 L407.5,182.2" stroke="#d4d4d6" stroke-width="3.2"/>
<path d="M400,179.4 L407.5,182.2 L414.9,185.3 L422.2,188.7" stroke="#d7d7d9" stroke-width="3.2"/>
<path d="M414.9,185.3 L422.2,188.7 L429.2,192.5 L436.1,196.7" stroke="#dbdbdd" stroke-width="3.2"/>
<path d="M429.2,192.5 L436.1,196.7 L442.6,201.2 L448.9,206.2" stroke="#dedee0" stroke-width="3.2"/>
<path d="M442.6,201.2 L448.9,206.2 L454.9,211.6 L460.4,217.4 L465.6,223.5" stroke="#e2e2e4" stroke-width="3.2"/>
<path d="M460.4,217.4 L465.6,223.5 L470.4,229.9 L474.7,236.7" stroke="#e0e0e2" stroke-width="3.2"/>
<path d="M470.4,229.9 L474.7,236.7 L478.7,243.6 L482.3,250.8" stroke="#dfdfe1" stroke-width="3.2"/>
<path d="M478.7,243.6 L482.3,250.8 L485.4,258.2 L488.2,265.7" stroke="#dedee0" stroke-width="3.2"/>
<path d="M485.4,258.2 L488.2,265.7 L490.6,273.3 L492.6,281.1" stroke="#dcdcde" stroke-width="3.2"/>
<path d="M490.6,273.3 L492.6,281.1 L494.2,288.9 L495.5,296.8" stroke="#dbdbdd" stroke-width="3.2"/>
<path d="M494.2,288.9 L495.5,296.8 L496.5,304.8 L497.2,312.8" stroke="#dadadc" stroke-width="3.2"/>
<path d="M496.5,304.8 L497.2,312.8 L497.7,320.8 L498.1,328.8" stroke="#d9d9db" stroke-width="3.2"/>
<path d="M497.7,320.8 L498.1,328.8 L498.3,336.8 L498.4,344.8" stroke="#d8d8da" stroke-width="3.2"/>
<path d="M498.3,336.8 L498.4,344.8 L498.4,352.8 L498.4,360.8" stroke="#d8d8da" stroke-width="3.2"/>
<path d="M498.4,352.8 L498.4,360.8 L498.4,368.8" stroke="#d8d8da" stroke-width="3.2"/>
<path d="M289.2,167.5 L297.1,167.6 L305.1,167.7 L313,167.9" stroke="#c0c0c2" stroke-width="3.2"/>
<path d="M305.1,167.7 L313,167.9 L321,168.2 L328.9,168.6" stroke="#c0c0c2" stroke-width="3.2"/>
<path d="M321,168.2 L328.9,168.6 L336.8,169.2 L344.8,169.9" stroke="#c1c1c3" stroke-width="3.2"/>
<path d="M336.8,169.2 L344.8,169.9 L352.7,170.8 L360.5,171.9" stroke="#c4c4c6" stroke-width="3.2"/>
<path d="M352.7,170.8 L360.5,171.9 L368.4,173.2 L376.2,174.7" stroke="#c8c8ca" stroke-width="3.2"/>
<path d="M368.4,173.2 L376.2,174.7 L383.9,176.5 L391.6,178.6" stroke="#cbcbcd" stroke-width="3.2"/>
<path d="M383.9,176.5 L391.6,178.6 L399.1,181 L406.6,183.7" stroke="#ceced0" stroke-width="3.2"/>
<path d="M399.1,181 L406.6,183.7 L413.9,186.8 L421.1,190.2" stroke="#d2d2d4" stroke-width="3.2"/>
<path d="M413.9,186.8 L421.1,190.2 L428.1,193.9 L434.9,198.1" stroke="#d5d5d7" stroke-width="3.2"/>
<path d="M428.1,193.9 L434.9,198.1 L441.4,202.6 L447.7,207.5" stroke="#d8d8da" stroke-width="3.2"/>
<path d="M441.4,202.6 L447.7,207.5 L453.6,212.8 L459.1,218.6 L464.2,224.6" stroke="#dbdbdd" stroke-width="3.2"/>
<path d="M459.1,218.6 L464.2,224.6 L468.9,231 L473.3,237.7" stroke="#dadadc" stroke-width="3.2"/>
<path d="M468.9,231 L473.3,237.7 L477.2,244.6 L480.7,251.8" stroke="#d8d8da" stroke-width="3.2"/>
<path d="M477.2,244.6 L480.7,251.8 L483.8,259.1 L486.5,266.5" stroke="#d7d7d9" stroke-width="3.2"/>
<path d="M483.8,259.1 L486.5,266.5 L488.9,274.1 L490.8,281.8" stroke="#d6d6d8" stroke-width="3.2"/>
<path d="M488.9,274.1 L490.8,281.8 L492.4,289.6 L493.7,297.4" stroke="#d5d5d7" stroke-width="3.2"/>
<path d="M492.4,289.6 L493.7,297.4 L494.6,305.3 L495.4,313.2" stroke="#d3d3d5" stroke-width="3.2"/>
<path d="M494.6,305.3 L495.4,313.2 L495.9,321.2 L496.2,329.1" stroke="#d2d2d4" stroke-width="3.2"/>
<path d="M495.9,321.2 L496.2,329.1 L496.4,337 L496.5,345" stroke="#d1d1d3" stroke-width="3.2"/>
<path d="M496.4,337 L496.5,345 L496.5,352.9 L496.5,360.9" stroke="#d1d1d3" stroke-width="3.2"/>
<path d="M496.5,352.9 L496.5,360.9 L496.5,368.9" stroke="#d1d1d3" stroke-width="3.2"/>
<path d="M289.2,169.4 L297,169.5 L304.9,169.6 L312.8,169.8" stroke="#bcbcbe" stroke-width="3.2"/>
<path d="M304.9,169.6 L312.8,169.8 L320.7,170.1 L328.6,170.5" stroke="#bcbcbe" stroke-width="3.2"/>
<path d="M320.7,170.1 L328.6,170.5 L336.4,171 L344.3,171.7" stroke="#bcbcbe" stroke-width="3.2"/>
<path d="M336.4,171 L344.3,171.7 L352.1,172.6 L359.9,173.6" stroke="#bfbfc1" stroke-width="3.2"/>
<path d="M352.1,172.6 L359.9,173.6 L367.7,174.9 L375.4,176.4" stroke="#c3c3c5" stroke-width="3.2"/>
<path d="M367.7,174.9 L375.4,176.4 L383.1,178.2 L390.7,180.3" stroke="#c6c6c8" stroke-width="3.2"/>
<path d="M383.1,178.2 L390.7,180.3 L398.2,182.6 L405.6,185.3" stroke="#c9c9cb" stroke-width="3.2"/>
<path d="M398.2,182.6 L405.6,185.3 L412.9,188.3 L420,191.7" stroke="#ccccce" stroke-width="3.2"/>
<path d="M412.9,188.3 L420,191.7 L427,195.4 L433.7,199.4" stroke="#cfcfd1" stroke-width="3.2"/>
<path d="M427,195.4 L433.7,199.4 L440.2,203.9 L446.4,208.8" stroke="#d2d2d4" stroke-width="3.2"/>
<path d="M440.2,203.9 L446.4,208.8 L452.3,214.1 L457.7,219.8 L462.8,225.8" stroke="#d5d5d7" stroke-width="3.2"/>
<path d="M457.7,219.8 L462.8,225.8 L467.5,232.1 L471.8,238.8" stroke="#d3d3d5" stroke-width="3.2"/>
<path d="M467.5,232.1 L471.8,238.8 L475.6,245.6 L479.1,252.7" stroke="#d2d2d4" stroke-width="3.2"/>
<path d="M475.6,245.6 L479.1,252.7 L482.2,259.9 L484.9,267.4" stroke="#d1d1d3" stroke-width="3.2"/>
<path d="M482.2,259.9 L484.9,267.4 L487.2,274.9 L489.1,282.5" stroke="#cfcfd1" stroke-width="3.2"/>
<path d="M487.2,274.9 L489.1,282.5 L490.6,290.2 L491.9,298" stroke="#ceced0" stroke-width="3.2"/>
<path d="M490.6,290.2 L491.9,298 L492.8,305.8 L493.5,313.7" stroke="#cdcdcf" stroke-width="3.2"/>
<path d="M492.8,305.8 L493.5,313.7 L494,321.6 L494.3,329.4" stroke="#ccccce" stroke-width="3.2"/>
<path d="M494,321.6 L494.3,329.4 L494.5,337.3 L494.6,345.2" stroke="#cbcbcd" stroke-width="3.2"/>
<path d="M494.5,337.3 L494.6,345.2 L494.6,353.1 L494.6,361" stroke="#cbcbcd" stroke-width="3.2"/>
<path d="M494.6,353.1 L494.6,361 L494.6,368.9" stroke="#cbcbcd" stroke-width="3.2"/>
<path d="M289.2,171.3 L297,171.3 L304.8,171.4 L312.6,171.6" stroke="#b7b7b9" stroke-width="3.2"/>
<path d="M304.8,171.4 L312.6,171.6 L320.4,171.9 L328.2,172.3" stroke="#b7b7b9" stroke-width="3.2"/>
<path d="M320.4,171.9 L328.2,172.3 L336,172.8 L343.8,173.5" stroke="#b8b8ba" stroke-width="3.2"/>
<path d="M336,172.8 L343.8,173.5 L351.6,174.4 L359.3,175.4" stroke="#bbbbbd" stroke-width="3.2"/>
<path d="M351.6,174.4 L359.3,175.4 L367,176.7 L374.7,178.2" stroke="#bdbdbf" stroke-width="3.2"/>
<path d="M367,176.7 L374.7,178.2 L382.3,179.9 L389.9,181.9" stroke="#c0c0c2" stroke-width="3.2"/>
<path d="M382.3,179.9 L389.9,181.9 L397.3,184.2 L404.7,186.9" stroke="#c3c3c5" stroke-width="3.2"/>
<path d="M397.3,184.2 L404.7,186.9 L411.9,189.8 L419,193.1" stroke="#c6c6c8" stroke-width="3.2"/>
<path d="M411.9,189.8 L419,193.1 L425.9,196.8 L432.6,200.8" stroke="#c9c9cb" stroke-width="3.2"/>
<path d="M425.9,196.8 L432.6,200.8 L439,205.3 L445.2,210.1" stroke="#ccccce" stroke-width="3.2"/>
<path d="M439,205.3 L445.2,210.1 L451,215.3 L456.4,221 L461.4,227" stroke="#ceced0" stroke-width="3.2"/>
<path d="M456.4,221 L461.4,227 L466,233.3 L470.3,239.8" stroke="#cdcdcf" stroke-width="3.2"/>
<path d="M466,233.3 L470.3,239.8 L474.1,246.6 L477.5,253.7" stroke="#cbcbcd" stroke-width="3.2"/>
<path d="M474.1,246.6 L477.5,253.7 L480.6,260.8 L483.2,268.2" stroke="#cacacc" stroke-width="3.2"/>
<path d="M480.6,260.8 L483.2,268.2 L485.5,275.7 L487.3,283.2" stroke="#c9c9cb" stroke-width="3.2"/>
<path d="M485.5,275.7 L487.3,283.2 L488.9,290.9 L490.1,298.6" stroke="#c8c8ca" stroke-width="3.2"/>
<path d="M488.9,290.9 L490.1,298.6 L491,306.4 L491.7,314.2" stroke="#c6c6c8" stroke-width="3.2"/>
<path d="M491,306.4 L491.7,314.2 L492.1,322 L492.5,329.8" stroke="#c5c5c7" stroke-width="3.2"/>
<path d="M492.1,322 L492.5,329.8 L492.6,337.6 L492.7,345.4" stroke="#c4c4c6" stroke-width="3.2"/>
<path d="M492.6,337.6 L492.7,345.4 L492.7,353.2 L492.7,361" stroke="#c4c4c6" stroke-width="3.2"/>
<path d="M492.7,353.2 L492.7,361 L492.8,368.9" stroke="#c4c4c6" stroke-width="3.2"/>
<path d="M289.2,173.1 L296.9,173.2 L304.7,173.3 L312.4,173.5" stroke="#b4b4b6" stroke-width="3.2"/>
<path d="M304.7,173.3 L312.4,173.5 L320.2,173.8 L327.9,174.2" stroke="#b4b4b6" stroke-width="3.2"/>
<path d="M320.2,173.8 L327.9,174.2 L335.6,174.7 L343.4,175.3" stroke="#b4b4b6" stroke-width="3.2"/>
<path d="M335.6,174.7 L343.4,175.3 L351.1,176.2 L358.7,177.2" stroke="#b7b7b9" stroke-width="3.2"/>
<path d="M351.1,176.2 L358.7,177.2 L366.4,178.4 L374,179.9" stroke="#b9b9bb" stroke-width="3.2"/>
<path d="M366.4,178.4 L374,179.9 L381.5,181.6 L389,183.6" stroke="#bcbcbe" stroke-width="3.2"/>
<path d="M381.5,181.6 L389,183.6 L396.4,185.8 L403.7,188.4" stroke="#bebec0" stroke-width="3.2"/>
<path d="M396.4,185.8 L403.7,188.4 L410.9,191.4 L417.9,194.6" stroke="#c0c0c2" stroke-width="3.2"/>
<path d="M410.9,191.4 L417.9,194.6 L424.8,198.2 L431.4,202.2" stroke="#c3c3c5" stroke-width="3.2"/>
<path d="M424.8,198.2 L431.4,202.2 L437.8,206.6 L443.9,211.4" stroke="#c5c5c7" stroke-width="3.2"/>
<path d="M437.8,206.6 L443.9,211.4 L449.6,216.6 L455,222.2 L460,228.1" stroke="#c8c8ca" stroke-width="3.2"/>
<path d="M455,222.2 L460,228.1 L464.6,234.4 L468.8,240.9" stroke="#c6c6c8" stroke-width="3.2"/>
<path d="M464.6,234.4 L468.8,240.9 L472.5,247.6 L475.9,254.6" stroke="#c5c5c7" stroke-width="3.2"/>
<path d="M472.5,247.6 L475.9,254.6 L478.9,261.7 L481.5,269" stroke="#c4c4c6" stroke-width="3.2"/>
<path d="M478.9,261.7 L481.5,269 L483.8,276.4 L485.6,284" stroke="#c3c3c5" stroke-width="3.2"/>
<path d="M483.8,276.4 L485.6,284 L487.1,291.6 L488.3,299.2" stroke="#c2c2c4" stroke-width="3.2"/>
<path d="M487.1,291.6 L488.3,299.2 L489.2,306.9 L489.8,314.6" stroke="#c1c1c3" stroke-width="3.2"/>
<path d="M489.2,306.9 L489.8,314.6 L490.3,322.4 L490.6,330.1" stroke="#c0c0c2" stroke-width="3.2"/>
<path d="M490.3,322.4 L490.6,330.1 L490.7,337.8 L490.8,345.6" stroke="#bfbfc1" stroke-width="3.2"/>
<path d="M490.7,337.8 L490.8,345.6 L490.9,353.4 L490.9,361.1" stroke="#bfbfc1" stroke-width="3.2"/>
<path d="M490.9,353.4 L490.9,361.1 L490.9,368.9" stroke="#bfbfc1" stroke-width="3.2"/>
<path d="M289.1,175 L296.8,175.1 L304.5,175.2 L312.2,175.4" stroke="#b0b0b2" stroke-width="3.2"/>
<path d="M304.5,175.2 L312.2,175.4 L319.9,175.6 L327.6,176" stroke="#b0b0b2" stroke-width="3.2"/>
<path d="M319.9,175.6 L327.6,176 L335.2,176.5 L342.9,177.1" stroke="#b0b0b2" stroke-width="3.2"/>
<path d="M335.2,176.5 L342.9,177.1 L350.5,177.9 L358.1,178.9" stroke="#b3b3b5" stroke-width="3.2"/>
<path d="M350.5,177.9 L358.1,178.9 L365.7,180.1 L373.3,181.6" stroke="#b5b5b7" stroke-width="3.2"/>
<path d="M365.7,180.1 L373.3,181.6 L380.8,183.3 L388.2,185.2" stroke="#b7b7b9" stroke-width="3.2"/>
<path d="M380.8,183.3 L388.2,185.2 L395.5,187.5 L402.8,190" stroke="#b9b9bb" stroke-width="3.2"/>
<path d="M395.5,187.5 L402.8,190 L409.9,192.9 L416.8,196.1" stroke="#bbbbbd" stroke-width="3.2"/>
<path d="M409.9,192.9 L416.8,196.1 L423.6,199.7 L430.2,203.6" stroke="#bdbdbf" stroke-width="3.2"/>
<path d="M423.6,199.7 L430.2,203.6 L436.6,207.9 L442.6,212.7" stroke="#bfbfc1" stroke-width="3.2"/>
<path d="M436.6,207.9 L442.6,212.7 L448.3,217.8 L453.7,223.4 L458.6,229.3" stroke="#c1c1c3" stroke-width="3.2"/>
<path d="M453.7,223.4 L458.6,229.3 L463.1,235.5 L467.3,241.9" stroke="#c0c0c2" stroke-width="3.2"/>
<path d="M463.1,235.5 L467.3,241.9 L471,248.6 L474.4,255.6" stroke="#bfbfc1" stroke-width="3.2"/>
<path d="M471,248.6 L474.4,255.6 L477.3,262.6 L479.9,269.9" stroke="#bebec0" stroke-width="3.2"/>
<path d="M477.3,262.6 L479.9,269.9 L482.1,277.2 L483.9,284.7" stroke="#bdbdbf" stroke-width="3.2"/>
<path d="M482.1,277.2 L483.9,284.7 L485.3,292.2 L486.5,299.8" stroke="#bdbdbf" stroke-width="3.2"/>
<path d="M485.3,292.2 L486.5,299.8 L487.3,307.4 L488,315.1" stroke="#bcbcbe" stroke-width="3.2"/>
<path d="M487.3,307.4 L488,315.1 L488.4,322.8 L488.7,330.4" stroke="#bbbbbd" stroke-width="3.2"/>
<path d="M488.4,322.8 L488.7,330.4 L488.9,338.1 L488.9,345.8" stroke="#bababc" stroke-width="3.2"/>
<path d="M488.9,338.1 L488.9,345.8 L489,353.5 L489,361.2" stroke="#bababc" stroke-width="3.2"/>
<path d="M489,353.5 L489,361.2 L489,368.9" stroke="#bababc" stroke-width="3.2"/>
<path d="M289.1,176.8 L296.8,176.9 L304.4,177 L312,177.2" stroke="#adadaf" stroke-width="3.2"/>
<path d="M304.4,177 L312,177.2 L319.6,177.5 L327.2,177.8" stroke="#adadaf" stroke-width="3.2"/>
<path d="M319.6,177.5 L327.2,177.8 L334.8,178.3 L342.4,178.9" stroke="#adadaf" stroke-width="3.2"/>
<path d="M334.8,178.3 L342.4,178.9 L350,179.7 L357.6,180.7" stroke="#afafb1" stroke-width="3.2"/>
<path d="M350,179.7 L357.6,180.7 L365.1,181.9 L372.6,183.3" stroke="#b0b0b2" stroke-width="3.2"/>
<path d="M365.1,181.9 L372.6,183.3 L380,184.9 L387.3,186.9" stroke="#b2b2b4" stroke-width="3.2"/>
<path d="M380,184.9 L387.3,186.9 L394.6,189.1 L401.8,191.6" stroke="#b4b4b6" stroke-width="3.2"/>
<path d="M394.6,189.1 L401.8,191.6 L408.9,194.4 L415.8,197.6" stroke="#b6b6b8" stroke-width="3.2"/>
<path d="M408.9,194.4 L415.8,197.6 L422.5,201.1 L429.1,205" stroke="#b8b8ba" stroke-width="3.2"/>
<path d="M422.5,201.1 L429.1,205 L435.4,209.3 L441.4,214" stroke="#bababc" stroke-width="3.2"/>
<path d="M435.4,209.3 L441.4,214 L447,219.1 L452.3,224.6 L457.2,230.4" stroke="#bbbbbd" stroke-width="3.2"/>
<path d="M452.3,224.6 L457.2,230.4 L461.7,236.6 L465.8,243" stroke="#bababc" stroke-width="3.2"/>
<path d="M461.7,236.6 L465.8,243 L469.5,249.6 L472.8,256.5" stroke="#b9b9bb" stroke-width="3.2"/>
<path d="M469.5,249.6 L472.8,256.5 L475.7,263.5 L478.2,270.7" stroke="#b9b9bb" stroke-width="3.2"/>
<path d="M475.7,263.5 L478.2,270.7 L480.4,278 L482.1,285.4" stroke="#b8b8ba" stroke-width="3.2"/>
<path d="M480.4,278 L482.1,285.4 L483.6,292.9 L484.7,300.4" stroke="#b7b7b9" stroke-width="3.2"/>
<path d="M483.6,292.9 L484.7,300.4 L485.5,308 L486.1,315.5" stroke="#b6b6b8" stroke-width="3.2"/>
<path d="M485.5,308 L486.1,315.5 L486.6,323.2 L486.8,330.8" stroke="#b6b6b8" stroke-width="3.2"/>
<path d="M486.6,323.2 L486.8,330.8 L487,338.4 L487.1,346" stroke="#b5b5b7" stroke-width="3.2"/>
<path d="M487,338.4 L487.1,346 L487.1,353.6 L487.1,361.2" stroke="#b5b5b7" stroke-width="3.2"/>
<path d="M487.1,353.6 L487.1,361.2 L487.2,368.9" stroke="#b5b5b7" stroke-width="3.2"/>
<path d="M289.1,178.7 L296.7,178.8 L304.2,178.9 L311.8,179.1" stroke="#a9a9ab" stroke-width="3.2"/>
<path d="M304.2,178.9 L311.8,179.1 L319.4,179.3 L326.9,179.7" stroke="#a9a9ab" stroke-width="3.2"/>
<path d="M319.4,179.3 L326.9,179.7 L334.4,180.1 L342,180.7" stroke="#a9a9ab" stroke-width="3.2"/>
<path d="M334.4,180.1 L342,180.7 L349.5,181.5 L357,182.5" stroke="#ababad" stroke-width="3.2"/>
<path d="M349.5,181.5 L357,182.5 L364.4,183.6 L371.8,185" stroke="#acacae" stroke-width="3.2"/>
<path d="M364.4,183.6 L371.8,185 L379.2,186.6 L386.5,188.5" stroke="#aeaeb0" stroke-width="3.2"/>
<path d="M379.2,186.6 L386.5,188.5 L393.7,190.7 L400.9,193.1" stroke="#afafb1" stroke-width="3.2"/>
<path d="M393.7,190.7 L400.9,193.1 L407.9,195.9 L414.7,199" stroke="#b1b1b3" stroke-width="3.2"/>
<path d="M407.9,195.9 L414.7,199 L421.4,202.5 L427.9,206.4" stroke="#b2b2b4" stroke-width="3.2"/>
<path d="M421.4,202.5 L427.9,206.4 L434.2,210.6 L440.1,215.3" stroke="#b4b4b6" stroke-width="3.2"/>
<path d="M434.2,210.6 L440.1,215.3 L445.7,220.3 L451,225.8 L455.8,231.6" stroke="#b5b5b7" stroke-width="3.2"/>
<path d="M451,225.8 L455.8,231.6 L460.2,237.7 L464.3,244" stroke="#b4b4b6" stroke-width="3.2"/>
<path d="M460.2,237.7 L464.3,244 L467.9,250.6 L471.2,257.5" stroke="#b4b4b6" stroke-width="3.2"/>
<path d="M467.9,250.6 L471.2,257.5 L474.1,264.4 L476.6,271.5" stroke="#b3b3b5" stroke-width="3.2"/>
<path d="M474.1,264.4 L476.6,271.5 L478.7,278.8 L480.4,286.1" stroke="#b2b2b4" stroke-width="3.2"/>
<path d="M478.7,278.8 L480.4,286.1 L481.8,293.5 L482.9,301" stroke="#b2b2b4" stroke-width="3.2"/>
<path d="M481.8,293.5 L482.9,301 L483.7,308.5 L484.3,316" stroke="#b1b1b3" stroke-width="3.2"/>
<path d="M483.7,308.5 L484.3,316 L484.7,323.6 L485,331.1" stroke="#b1b1b3" stroke-width="3.2"/>
<path d="M484.7,323.6 L485,331.1 L485.1,338.7 L485.2,346.2" stroke="#b0b0b2" stroke-width="3.2"/>
<path d="M485.1,338.7 L485.2,346.2 L485.2,353.8 L485.2,361.3" stroke="#b0b0b2" stroke-width="3.2"/>
<path d="M485.2,353.8 L485.2,361.3 L485.3,368.9" stroke="#b0b0b2" stroke-width="3.2"/>
<path d="M289.1,180.6 L296.6,180.7 L304.1,180.8 L311.6,180.9" stroke="#a5a5a7" stroke-width="3.2"/>
<path d="M304.1,180.8 L311.6,180.9 L319.1,181.2 L326.6,181.5" stroke="#a5a5a7" stroke-width="3.2"/>
<path d="M319.1,181.2 L326.6,181.5 L334,182 L341.5,182.6" stroke="#a6a6a8" stroke-width="3.2"/>
<path d="M334,182 L341.5,182.6 L348.9,183.3 L356.4,184.2" stroke="#a7a7a9" stroke-width="3.2"/>
<path d="M348.9,183.3 L356.4,184.2 L363.8,185.3 L371.1,186.7" stroke="#a8a8aa" stroke-width="3.2"/>
<path d="M363.8,185.3 L371.1,186.7 L378.4,188.3 L385.7,190.1" stroke="#a9a9ab" stroke-width="3.2"/>
<path d="M378.4,188.3 L385.7,190.1 L392.8,192.3 L399.9,194.7" stroke="#aaaaac" stroke-width="3.2"/>
<path d="M392.8,192.3 L399.9,194.7 L406.8,197.4 L413.7,200.5" stroke="#acacae" stroke-width="3.2"/>
<path d="M406.8,197.4 L413.7,200.5 L420.3,204 L426.7,207.8" stroke="#adadaf" stroke-width="3.2"/>
<path d="M420.3,204 L426.7,207.8 L432.9,212 L438.8,216.5" stroke="#aeaeb0" stroke-width="3.2"/>
<path d="M432.9,212 L438.8,216.5 L444.4,221.6 L449.6,227 L454.4,232.7" stroke="#afafb1" stroke-width="3.2"/>
<path d="M449.6,227 L454.4,232.7 L458.8,238.8 L462.8,245.1" stroke="#aeaeb0" stroke-width="3.2"/>
<path d="M458.8,238.8 L462.8,245.1 L466.4,251.6 L469.6,258.4" stroke="#aeaeb0" stroke-width="3.2"/>
<path d="M466.4,251.6 L469.6,258.4 L472.4,265.3 L474.9,272.4" stroke="#adadaf" stroke-width="3.2"/>
<path d="M472.4,265.3 L474.9,272.4 L477,279.6 L478.7,286.8" stroke="#adadaf" stroke-width="3.2"/>
<path d="M477,279.6 L478.7,286.8 L480,294.2 L481.1,301.6" stroke="#acacae" stroke-width="3.2"/>
<path d="M480,294.2 L481.1,301.6 L481.9,309 L482.5,316.5" stroke="#acacae" stroke-width="3.2"/>
<path d="M481.9,309 L482.5,316.5 L482.8,324 L483.1,331.4" stroke="#ababad" stroke-width="3.2"/>
<path d="M482.8,324 L483.1,331.4 L483.2,338.9 L483.3,346.4" stroke="#ababad" stroke-width="3.2"/>
<path d="M483.2,338.9 L483.3,346.4 L483.3,353.9 L483.3,361.4" stroke="#ababad" stroke-width="3.2"/>
<path d="M483.3,353.9 L483.3,361.4 L483.4,368.9" stroke="#ababad" stroke-width="3.2"/>
<path d="M289.1,182.4 L296.6,182.5 L304,182.6 L311.4,182.8" stroke="#a2a2a4" stroke-width="3.2"/>
<path d="M304,182.6 L311.4,182.8 L318.8,183 L326.2,183.3" stroke="#a2a2a4" stroke-width="3.2"/>
<path d="M318.8,183 L326.2,183.3 L333.6,183.8 L341,184.4" stroke="#a2a2a4" stroke-width="3.2"/>
<path d="M333.6,183.8 L341,184.4 L348.4,185.1 L355.8,186" stroke="#a3a3a5" stroke-width="3.2"/>
<path d="M348.4,185.1 L355.8,186 L363.1,187.1 L370.4,188.4" stroke="#a4a4a6" stroke-width="3.2"/>
<path d="M363.1,187.1 L370.4,188.4 L377.6,190 L384.8,191.8" stroke="#a5a5a7" stroke-width="3.2"/>
<path d="M377.6,190 L384.8,191.8 L391.9,193.9 L398.9,196.3" stroke="#a6a6a8" stroke-width="3.2"/>
<path d="M391.9,193.9 L398.9,196.3 L405.8,199 L412.6,202" stroke="#a6a6a8" stroke-width="3.2"/>
<path d="M405.8,199 L412.6,202 L419.2,205.4 L425.6,209.1" stroke="#a7a7a9" stroke-width="3.2"/>
<path d="M419.2,205.4 L425.6,209.1 L431.7,213.3 L437.6,217.8" stroke="#a8a8aa" stroke-width="3.2"/>
<path d="M431.7,213.3 L437.6,217.8 L443.1,222.8 L448.2,228.2 L453,233.9" stroke="#a9a9ab" stroke-width="3.2"/>
<path d="M448.2,228.2 L453,233.9 L457.3,239.9 L461.3,246.1" stroke="#a9a9ab" stroke-width="3.2"/>
<path d="M457.3,239.9 L461.3,246.1 L464.8,252.7 L468,259.4" stroke="#a8a8aa" stroke-width="3.2"/>
<path d="M464.8,252.7 L468,259.4 L470.8,266.2 L473.2,273.2" stroke="#a8a8aa" stroke-width="3.2"/>
<path d="M470.8,266.2 L473.2,273.2 L475.3,280.3 L476.9,287.6" stroke="#a7a7a9" stroke-width="3.2"/>
<path d="M475.3,280.3 L476.9,287.6 L478.3,294.8 L479.3,302.2" stroke="#a7a7a9" stroke-width="3.2"/>
<path d="M478.3,294.8 L479.3,302.2 L480.1,309.6 L480.6,316.9" stroke="#a7a7a9" stroke-width="3.2"/>
<path d="M480.1,309.6 L480.6,316.9 L481,324.4 L481.2,331.8" stroke="#a6a6a8" stroke-width="3.2"/>
<path d="M481,324.4 L481.2,331.8 L481.3,339.2 L481.4,346.6" stroke="#a6a6a8" stroke-width="3.2"/>
<path d="M481.3,339.2 L481.4,346.6 L481.4,354 L481.5,361.5" stroke="#a6a6a8" stroke-width="3.2"/>
<path d="M481.4,354 L481.5,361.5 L481.6,368.9" stroke="#a6a6a8" stroke-width="3.2"/>
<path d="M289.1,184.3 L296.5,184.4 L303.8,184.5 L311.2,184.6" stroke="#9e9ea0" stroke-width="3.2"/>
<path d="M303.8,184.5 L311.2,184.6 L318.5,184.9 L325.9,185.2" stroke="#9e9ea0" stroke-width="3.2"/>
<path d="M318.5,184.9 L325.9,185.2 L333.2,185.6 L340.6,186.2" stroke="#9e9ea0" stroke-width="3.2"/>
<path d="M333.2,185.6 L340.6,186.2 L347.9,186.9 L355.2,187.7" stroke="#9f9fa1" stroke-width="3.2"/>
<path d="M347.9,186.9 L355.2,187.7 L362.4,188.8 L369.7,190.1" stroke="#a0a0a2" stroke-width="3.2"/>
<path d="M362.4,188.8 L369.7,190.1 L376.9,191.6 L384,193.4" stroke="#a0a0a2" stroke-width="3.2"/>
<path d="M376.9,191.6 L384,193.4 L391,195.5 L398,197.8" stroke="#a1a1a3" stroke-width="3.2"/>
<path d="M391,195.5 L398,197.8 L404.8,200.5 L411.5,203.5" stroke="#a1a1a3" stroke-width="3.2"/>
<path d="M404.8,200.5 L411.5,203.5 L418.1,206.8 L424.4,210.5" stroke="#a2a2a4" stroke-width="3.2"/>
<path d="M418.1,206.8 L424.4,210.5 L430.5,214.6 L436.3,219.1" stroke="#a2a2a4" stroke-width="3.2"/>
<path d="M430.5,214.6 L436.3,219.1 L441.8,224 L446.9,229.4 L451.6,235" stroke="#a3a3a5" stroke-width="3.2"/>
<path d="M446.9,229.4 L451.6,235 L455.9,241 L459.8,247.2" stroke="#a3a3a5" stroke-width="3.2"/>
<path d="M455.9,241 L459.8,247.2 L463.3,253.7 L466.4,260.3" stroke="#a2a2a4" stroke-width="3.2"/>
<path d="M463.3,253.7 L466.4,260.3 L469.2,267.1 L471.6,274.1" stroke="#a2a2a4" stroke-width="3.2"/>
<path d="M469.2,267.1 L471.6,274.1 L473.6,281.1 L475.2,288.3" stroke="#a2a2a4" stroke-width="3.2"/>
<path d="M473.6,281.1 L475.2,288.3 L476.5,295.5 L477.5,302.8" stroke="#a2a2a4" stroke-width="3.2"/>
<path d="M476.5,295.5 L477.5,302.8 L478.2,310.1 L478.8,317.4" stroke="#a1a1a3" stroke-width="3.2"/>
<path d="M478.2,310.1 L478.8,317.4 L479.1,324.8 L479.3,332.1" stroke="#a1a1a3" stroke-width="3.2"/>
<path d="M479.1,324.8 L479.3,332.1 L479.5,339.5 L479.5,346.8" stroke="#a1a1a3" stroke-width="3.2"/>
<path d="M479.5,339.5 L479.5,346.8 L479.5,354.2 L479.6,361.5" stroke="#a1a1a3" stroke-width="3.2"/>
<path d="M479.5,354.2 L479.6,361.5 L479.7,368.9" stroke="#a1a1a3" stroke-width="3.2"/>
<path d="M289.1,186.2 L296.4,186.3 L303.7,186.4 L311,186.5" stroke="#9b9b9d" stroke-width="3.2"/>
<path d="M303.7,186.4 L311,186.5 L318.3,186.7 L325.6,187" stroke="#9b9b9d" stroke-width="3.2"/>
<path d="M318.3,186.7 L325.6,187 L332.8,187.4 L340.1,188" stroke="#9b9b9d" stroke-width="3.2"/>
<path d="M332.8,187.4 L340.1,188 L347.3,188.7 L354.6,189.5" stroke="#9b9b9d" stroke-width="3.2"/>
<path d="M347.3,188.7 L354.6,189.5 L361.8,190.6 L369,191.8" stroke="#9b9b9d" stroke-width="3.2"/>
<path d="M361.8,190.6 L369,191.8 L376.1,193.3 L383.1,195.1" stroke="#9c9c9e" stroke-width="3.2"/>
<path d="M376.1,193.3 L383.1,195.1 L390.1,197.1 L397,199.4" stroke="#9c9c9e" stroke-width="3.2"/>
<path d="M390.1,197.1 L397,199.4 L403.8,202 L410.5,205" stroke="#9c9c9e" stroke-width="3.2"/>
<path d="M403.8,202 L410.5,205 L417,208.3 L423.2,211.9" stroke="#9c9c9e" stroke-width="3.2"/>
<path d="M417,208.3 L423.2,211.9 L429.3,216 L435.1,220.4" stroke="#9d9d9f" stroke-width="3.2"/>
<path d="M429.3,216 L435.1,220.4 L440.5,225.3 L445.5,230.6 L450.2,236.2" stroke="#9d9d9f" stroke-width="3.2"/>
<path d="M445.5,230.6 L450.2,236.2 L454.4,242.1 L458.3,248.3" stroke="#9d9d9f" stroke-width="3.2"/>
<path d="M454.4,242.1 L458.3,248.3 L461.8,254.7 L464.9,261.3" stroke="#9d9d9f" stroke-width="3.2"/>
<path d="M461.8,254.7 L464.9,261.3 L467.6,268 L469.9,274.9" stroke="#9d9d9f" stroke-width="3.2"/>
<path d="M467.6,268 L469.9,274.9 L471.9,281.9 L473.5,289" stroke="#9c9c9e" stroke-width="3.2"/>
<path d="M471.9,281.9 L473.5,289 L474.7,296.2 L475.7,303.4" stroke="#9c9c9e" stroke-width="3.2"/>
<path d="M474.7,296.2 L475.7,303.4 L476.4,310.6 L476.9,317.9" stroke="#9c9c9e" stroke-width="3.2"/>
<path d="M476.4,310.6 L476.9,317.9 L477.3,325.2 L477.5,332.4" stroke="#9c9c9e" stroke-width="3.2"/>
<path d="M477.3,325.2 L477.5,332.4 L477.6,339.7 L477.6,347" stroke="#9c9c9e" stroke-width="3.2"/>
<path d="M477.6,339.7 L477.6,347 L477.7,354.3 L477.7,361.6" stroke="#9c9c9e" stroke-width="3.2"/>
<path d="M477.7,354.3 L477.7,361.6 L477.8,368.9" stroke="#9c9c9e" stroke-width="3.2"/>
<path d="M289.1,188 L296.3,188.1 L303.6,188.2 L310.8,188.4" stroke="#979799" stroke-width="3.2"/>
<path d="M303.6,188.2 L310.8,188.4 L318,188.6 L325.2,188.9" stroke="#979799" stroke-width="3.2"/>
<path d="M318,188.6 L325.2,188.9 L332.4,189.3 L339.6,189.8" stroke="#979799" stroke-width="3.2"/>
<path d="M332.4,189.3 L339.6,189.8 L346.8,190.4 L354,191.3" stroke="#979799" stroke-width="3.2"/>
<path d="M346.8,190.4 L354,191.3 L361.1,192.3 L368.2,193.5" stroke="#979799" stroke-width="3.2"/>
<path d="M361.1,192.3 L368.2,193.5 L375.3,195 L382.3,196.7" stroke="#979799" stroke-width="3.2"/>
<path d="M375.3,195 L382.3,196.7 L389.2,198.7 L396.1,201" stroke="#979799" stroke-width="3.2"/>
<path d="M389.2,198.7 L396.1,201 L402.8,203.5 L409.4,206.4" stroke="#979799" stroke-width="3.2"/>
<path d="M402.8,203.5 L409.4,206.4 L415.8,209.7 L422.1,213.3" stroke="#979799" stroke-width="3.2"/>
<path d="M415.8,209.7 L422.1,213.3 L428.1,217.3 L433.8,221.7" stroke="#979799" stroke-width="3.2"/>
<path d="M428.1,217.3 L433.8,221.7 L439.2,226.5 L444.2,231.8 L448.8,237.3" stroke="#979799" stroke-width="3.2"/>
<path d="M444.2,231.8 L448.8,237.3 L453,243.2 L456.8,249.3" stroke="#979799" stroke-width="3.2"/>
<path d="M453,243.2 L456.8,249.3 L460.2,255.7 L463.3,262.2" stroke="#979799" stroke-width="3.2"/>
<path d="M460.2,255.7 L463.3,262.2 L465.9,268.9 L468.2,275.7" stroke="#979799" stroke-width="3.2"/>
<path d="M465.9,268.9 L468.2,275.7 L470.2,282.7 L471.7,289.7" stroke="#979799" stroke-width="3.2"/>
<path d="M470.2,282.7 L471.7,289.7 L473,296.8 L473.9,304" stroke="#979799" stroke-width="3.2"/>
<path d="M473,296.8 L473.9,304 L474.6,311.1 L475.1,318.3" stroke="#979799" stroke-width="3.2"/>
<path d="M474.6,311.1 L475.1,318.3 L475.4,325.6 L475.6,332.8" stroke="#979799" stroke-width="3.2"/>
<path d="M475.4,325.6 L475.6,332.8 L475.7,340 L475.7,347.2" stroke="#979799" stroke-width="3.2"/>
<path d="M475.7,340 L475.7,347.2 L475.8,354.4 L475.8,361.7" stroke="#979799" stroke-width="3.2"/>
<path d="M475.8,354.4 L475.8,361.7 L476,368.9" stroke="#979799" stroke-width="3.2"/>
<path d="M289.1,189.9 L296.3,190 L303.4,190.1 L310.6,190.2" stroke="#939395" stroke-width="3.2"/>
<path d="M303.4,190.1 L310.6,190.2 L317.7,190.4 L324.9,190.7" stroke="#939395" stroke-width="3.2"/>
<path d="M317.7,190.4 L324.9,190.7 L332,191.1 L339.2,191.6" stroke="#939395" stroke-width="3.2"/>
<path d="M332,191.1 L339.2,191.6 L346.3,192.2 L353.4,193" stroke="#939395" stroke-width="3.2"/>
<path d="M346.3,192.2 L353.4,193 L360.5,194 L367.5,195.2" stroke="#939395" stroke-width="3.2"/>
<path d="M360.5,194 L367.5,195.2 L374.5,196.7 L381.5,198.3" stroke="#929294" stroke-width="3.2"/>
<path d="M374.5,196.7 L381.5,198.3 L388.3,200.3 L395.1,202.5" stroke="#929294" stroke-width="3.2"/>
<path d="M388.3,200.3 L395.1,202.5 L401.8,205.1 L408.3,207.9" stroke="#929294" stroke-width="3.2"/>
<path d="M401.8,205.1 L408.3,207.9 L414.7,211.1 L420.9,214.7" stroke="#929294" stroke-width="3.2"/>
<path d="M414.7,211.1 L420.9,214.7 L426.9,218.6 L432.5,223" stroke="#929294" stroke-width="3.2"/>
<path d="M426.9,218.6 L432.5,223 L437.9,227.8 L442.8,233 L447.4,238.5" stroke="#919193" stroke-width="3.2"/>
<path d="M442.8,233 L447.4,238.5 L451.5,244.3 L455.3,250.4" stroke="#919193" stroke-width="3.2"/>
<path d="M451.5,244.3 L455.3,250.4 L458.7,256.7 L461.7,263.2" stroke="#919193" stroke-width="3.2"/>
<path d="M458.7,256.7 L461.7,263.2 L464.3,269.8 L466.6,276.6" stroke="#919193" stroke-width="3.2"/>
<path d="M464.3,269.8 L466.6,276.6 L468.5,283.5 L470,290.4" stroke="#919193" stroke-width="3.2"/>
<path d="M468.5,283.5 L470,290.4 L471.2,297.5 L472.1,304.6" stroke="#919193" stroke-width="3.2"/>
<path d="M471.2,297.5 L472.1,304.6 L472.8,311.7 L473.2,318.8" stroke="#919193" stroke-width="3.2"/>
<path d="M472.8,311.7 L473.2,318.8 L473.6,326 L473.7,333.1" stroke="#919193" stroke-width="3.2"/>
<path d="M473.6,326 L473.7,333.1 L473.8,340.3 L473.9,347.4" stroke="#919193" stroke-width="3.2"/>
<path d="M473.8,340.3 L473.9,347.4 L473.9,354.6 L474,361.7" stroke="#919193" stroke-width="3.2"/>
<path d="M473.9,354.6 L474,361.7 L474.1,368.9" stroke="#919193" stroke-width="3.2"/>
<path d="M289.1,191.8 L296.2,191.8 L303.3,191.9 L310.4,192.1" stroke="#8f8f91" stroke-width="3.2"/>
<path d="M303.3,191.9 L310.4,192.1 L317.5,192.3 L324.6,192.5" stroke="#8f8f91" stroke-width="3.2"/>
<path d="M317.5,192.3 L324.6,192.5 L331.6,192.9 L338.7,193.4" stroke="#8f8f91" stroke-width="3.2"/>
<path d="M331.6,192.9 L338.7,193.4 L345.8,194 L352.8,194.8" stroke="#8f8f91" stroke-width="3.2"/>
<path d="M345.8,194 L352.8,194.8 L359.8,195.8 L366.8,196.9" stroke="#8e8e90" stroke-width="3.2"/>
<path d="M359.8,195.8 L366.8,196.9 L373.7,198.3 L380.6,200" stroke="#8e8e90" stroke-width="3.2"/>
<path d="M373.7,198.3 L380.6,200 L387.4,201.9 L394.2,204.1" stroke="#8d8d8f" stroke-width="3.2"/>
<path d="M387.4,201.9 L394.2,204.1 L400.8,206.6 L407.3,209.4" stroke="#8d8d8f" stroke-width="3.2"/>
<path d="M400.8,206.6 L407.3,209.4 L413.6,212.6 L419.8,216.1" stroke="#8d8d8f" stroke-width="3.2"/>
<path d="M413.6,212.6 L419.8,216.1 L425.7,220 L431.3,224.3" stroke="#8c8c8e" stroke-width="3.2"/>
<path d="M425.7,220 L431.3,224.3 L436.6,229 L441.5,234.2 L446,239.6" stroke="#8c8c8e" stroke-width="3.2"/>
<path d="M441.5,234.2 L446,239.6 L450.1,245.4 L453.8,251.4" stroke="#8c8c8e" stroke-width="3.2"/>
<path d="M450.1,245.4 L453.8,251.4 L457.1,257.7 L460.1,264.1" stroke="#8c8c8e" stroke-width="3.2"/>
<path d="M457.1,257.7 L460.1,264.1 L462.7,270.7 L464.9,277.4" stroke="#8c8c8e" stroke-width="3.2"/>
<path d="M462.7,270.7 L464.9,277.4 L466.8,284.2 L468.2,291.2" stroke="#8c8c8e" stroke-width="3.2"/>
<path d="M466.8,284.2 L468.2,291.2 L469.4,298.1 L470.3,305.2" stroke="#8b8b8d" stroke-width="3.2"/>
<path d="M469.4,298.1 L470.3,305.2 L471,312.2 L471.4,319.3" stroke="#8b8b8d" stroke-width="3.2"/>
<path d="M471,312.2 L471.4,319.3 L471.7,326.4 L471.9,333.4" stroke="#8b8b8d" stroke-width="3.2"/>
<path d="M471.7,326.4 L471.9,333.4 L471.9,340.5 L472,347.6" stroke="#8b8b8d" stroke-width="3.2"/>
<path d="M471.9,340.5 L472,347.6 L472,354.7 L472.1,361.8" stroke="#8b8b8d" stroke-width="3.2"/>
<path d="M472,354.7 L472.1,361.8 L472.2,368.9" stroke="#8b8b8d" stroke-width="3.2"/>
<path d="M289.1,193.6 L296.1,193.7 L303.2,193.8 L310.2,193.9" stroke="#8b8b8d" stroke-width="3.2"/>
<path d="M303.2,193.8 L310.2,193.9 L317.2,194.1 L324.2,194.4" stroke="#8b8b8d" stroke-width="3.2"/>
<path d="M317.2,194.1 L324.2,194.4 L331.2,194.7 L338.2,195.2" stroke="#8b8b8d" stroke-width="3.2"/>
<path d="M331.2,194.7 L338.2,195.2 L345.2,195.8 L352.2,196.6" stroke="#8a8a8c" stroke-width="3.2"/>
<path d="M345.2,195.8 L352.2,196.6 L359.1,197.5 L366.1,198.7" stroke="#8a8a8c" stroke-width="3.2"/>
<path d="M359.1,197.5 L366.1,198.7 L372.9,200 L379.8,201.6" stroke="#89898b" stroke-width="3.2"/>
<path d="M372.9,200 L379.8,201.6 L386.5,203.5 L393.2,205.7" stroke="#89898b" stroke-width="3.2"/>
<path d="M386.5,203.5 L393.2,205.7 L399.8,208.1 L406.2,210.9" stroke="#88888a" stroke-width="3.2"/>
<path d="M399.8,208.1 L406.2,210.9 L412.5,214 L418.6,217.5" stroke="#878789" stroke-width="3.2"/>
<path d="M412.5,214 L418.6,217.5 L424.5,221.3 L430,225.6" stroke="#878789" stroke-width="3.2"/>
<path d="M424.5,221.3 L430,225.6 L435.3,230.3 L440.1,235.4 L444.6,240.8" stroke="#868688" stroke-width="3.2"/>
<path d="M440.1,235.4 L444.6,240.8 L448.6,246.5 L452.3,252.5" stroke="#868688" stroke-width="3.2"/>
<path d="M448.6,246.5 L452.3,252.5 L455.6,258.7 L458.5,265.1" stroke="#868688" stroke-width="3.2"/>
<path d="M455.6,258.7 L458.5,265.1 L461.1,271.6 L463.2,278.3" stroke="#868688" stroke-width="3.2"/>
<path d="M461.1,271.6 L463.2,278.3 L465,285 L466.5,291.9" stroke="#868688" stroke-width="3.2"/>
<path d="M465,285 L466.5,291.9 L467.7,298.8 L468.5,305.8" stroke="#868688" stroke-width="3.2"/>
<path d="M467.7,298.8 L468.5,305.8 L469.1,312.7 L469.6,319.7" stroke="#868688" stroke-width="3.2"/>
<path d="M469.1,312.7 L469.6,319.7 L469.8,326.8 L470,333.8" stroke="#868688" stroke-width="3.2"/>
<path d="M469.8,326.8 L470,333.8 L470.1,340.8 L470.1,347.8" stroke="#858587" stroke-width="3.2"/>
<path d="M470.1,340.8 L470.1,347.8 L470.1,354.8 L470.2,361.9" stroke="#858587" stroke-width="3.2"/>
<path d="M470.1,354.8 L470.2,361.9 L470.4,368.9" stroke="#858587" stroke-width="3.2"/>
<path d="M289.1,195.5 L296.1,195.6 L303,195.7 L310,195.8" stroke="#878789" stroke-width="3.2"/>
<path d="M303,195.7 L310,195.8 L316.9,196 L323.9,196.2" stroke="#878789" stroke-width="3.2"/>
<path d="M316.9,196 L323.9,196.2 L330.8,196.5 L337.8,197" stroke="#878789" stroke-width="3.2"/>
<path d="M330.8,196.5 L337.8,197 L344.7,197.6 L351.6,198.3" stroke="#868688" stroke-width="3.2"/>
<path d="M344.7,197.6 L351.6,198.3 L358.5,199.2 L365.3,200.4" stroke="#858587" stroke-width="3.2"/>
<path d="M358.5,199.2 L365.3,200.4 L372.2,201.7 L378.9,203.3" stroke="#858587" stroke-width="3.2"/>
<path d="M372.2,201.7 L378.9,203.3 L385.6,205.1 L392.2,207.2" stroke="#848486" stroke-width="3.2"/>
<path d="M385.6,205.1 L392.2,207.2 L398.8,209.6 L405.1,212.4" stroke="#838385" stroke-width="3.2"/>
<path d="M398.8,209.6 L405.1,212.4 L411.4,215.4 L417.4,218.8" stroke="#828284" stroke-width="3.2"/>
<path d="M411.4,215.4 L417.4,218.8 L423.2,222.7 L428.8,226.9" stroke="#828284" stroke-width="3.2"/>
<path d="M423.2,222.7 L428.8,226.9 L434,231.5 L438.8,236.5 L443.2,241.9" stroke="#818183" stroke-width="3.2"/>
<path d="M438.8,236.5 L443.2,241.9 L447.2,247.6 L450.8,253.5" stroke="#818183" stroke-width="3.2"/>
<path d="M447.2,247.6 L450.8,253.5 L454.1,259.7 L456.9,266" stroke="#808082" stroke-width="3.2"/>
<path d="M454.1,259.7 L456.9,266 L459.4,272.5 L461.6,279.1" stroke="#808082" stroke-width="3.2"/>
<path d="M459.4,272.5 L461.6,279.1 L463.3,285.8 L464.8,292.6" stroke="#808082" stroke-width="3.2"/>
<path d="M463.3,285.8 L464.8,292.6 L465.9,299.5 L466.7,306.3" stroke="#808082" stroke-width="3.2"/>
<path d="M465.9,299.5 L466.7,306.3 L467.3,313.3 L467.7,320.2" stroke="#808082" stroke-width="3.2"/>
<path d="M467.3,313.3 L467.7,320.2 L468,327.2 L468.1,334.1" stroke="#808082" stroke-width="3.2"/>
<path d="M468,327.2 L468.1,334.1 L468.2,341.1 L468.2,348" stroke="#808082" stroke-width="3.2"/>
<path d="M468.2,341.1 L468.2,348 L468.2,355 L468.3,361.9" stroke="#808082" stroke-width="3.2"/>
<path d="M468.2,355 L468.3,361.9 L468.5,368.9" stroke="#808082" stroke-width="3.2"/>
<path d="M289.1,197.4 L296,197.4 L302.9,197.5 L309.8,197.7" stroke="#838385" stroke-width="3.2"/>
<path d="M302.9,197.5 L309.8,197.7 L316.7,197.8 L323.5,198.1" stroke="#838385" stroke-width="3.2"/>
<path d="M316.7,197.8 L323.5,198.1 L330.4,198.4 L337.3,198.8" stroke="#838385" stroke-width="3.2"/>
<path d="M330.4,198.4 L337.3,198.8 L344.2,199.4 L351,200.1" stroke="#828284" stroke-width="3.2"/>
<path d="M344.2,199.4 L351,200.1 L357.8,201 L364.6,202.1" stroke="#818183" stroke-width="3.2"/>
<path d="M357.8,201 L364.6,202.1 L371.4,203.4 L378.1,204.9" stroke="#808082" stroke-width="3.2"/>
<path d="M371.4,203.4 L378.1,204.9 L384.7,206.7 L391.3,208.8" stroke="#7f7f81" stroke-width="3.2"/>
<path d="M384.7,206.7 L391.3,208.8 L397.7,211.2 L404.1,213.8" stroke="#7e7e80" stroke-width="3.2"/>
<path d="M397.7,211.2 L404.1,213.8 L410.3,216.8 L416.3,220.2" stroke="#7d7d7f" stroke-width="3.2"/>
<path d="M410.3,216.8 L416.3,220.2 L422,224 L427.5,228.2" stroke="#7c7c7e" stroke-width="3.2"/>
<path d="M422,224 L427.5,228.2 L432.6,232.8 L437.4,237.7 L441.8,243.1" stroke="#7b7b7d" stroke-width="3.2"/>
<path d="M437.4,237.7 L441.8,243.1 L445.7,248.7 L449.3,254.6" stroke="#7b7b7d" stroke-width="3.2"/>
<path d="M445.7,248.7 L449.3,254.6 L452.5,260.7 L455.4,267" stroke="#7b7b7d" stroke-width="3.2"/>
<path d="M452.5,260.7 L455.4,267 L457.8,273.4 L459.9,279.9" stroke="#7b7b7d" stroke-width="3.2"/>
<path d="M457.8,273.4 L459.9,279.9 L461.6,286.6 L463,293.3" stroke="#7a7a7c" stroke-width="3.2"/>
<path d="M461.6,286.6 L463,293.3 L464.1,300.1 L464.9,306.9" stroke="#7a7a7c" stroke-width="3.2"/>
<path d="M464.1,300.1 L464.9,306.9 L465.5,313.8 L465.9,320.7" stroke="#7a7a7c" stroke-width="3.2"/>
<path d="M465.5,313.8 L465.9,320.7 L466.1,327.6 L466.2,334.4" stroke="#7a7a7c" stroke-width="3.2"/>
<path d="M466.1,327.6 L466.2,334.4 L466.3,341.3 L466.3,348.2" stroke="#7a7a7c" stroke-width="3.2"/>
<path d="M466.3,341.3 L466.3,348.2 L466.4,355.1 L466.4,362" stroke="#7a7a7c" stroke-width="3.2"/>
<path d="M466.4,355.1 L466.4,362 L466.6,368.9" stroke="#7a7a7c" stroke-width="3.2"/>
<path d="M289.1,199.2 L295.9,199.3 L302.7,199.4 L309.6,199.5" stroke="#7f7f81" stroke-width="3.2"/>
<path d="M302.7,199.4 L309.6,199.5 L316.4,199.7 L323.2,199.9" stroke="#7f7f81" stroke-width="3.2"/>
<path d="M316.4,199.7 L323.2,199.9 L330,200.2 L336.8,200.6" stroke="#7f7f81" stroke-width="3.2"/>
<path d="M330,200.2 L336.8,200.6 L343.6,201.2 L350.4,201.8" stroke="#7e7e80" stroke-width="3.2"/>
<path d="M343.6,201.2 L350.4,201.8 L357.2,202.7 L363.9,203.8" stroke="#7d7d7f" stroke-width="3.2"/>
<path d="M357.2,202.7 L363.9,203.8 L370.6,205.1 L377.2,206.6" stroke="#7b7b7d" stroke-width="3.2"/>
<path d="M370.6,205.1 L377.2,206.6 L383.8,208.3 L390.3,210.4" stroke="#7a7a7c" stroke-width="3.2"/>
<path d="M383.8,208.3 L390.3,210.4 L396.7,212.7 L403,215.3" stroke="#79797b" stroke-width="3.2"/>
<path d="M396.7,212.7 L403,215.3 L409.1,218.3 L415.1,221.6" stroke="#78787a" stroke-width="3.2"/>
<path d="M409.1,218.3 L415.1,221.6 L420.8,225.3 L426.2,229.5" stroke="#777779" stroke-width="3.2"/>
<path d="M420.8,225.3 L426.2,229.5 L431.3,234 L436,238.9 L440.4,244.2" stroke="#767678" stroke-width="3.2"/>
<path d="M436,238.9 L440.4,244.2 L444.3,249.8 L447.8,255.6" stroke="#767678" stroke-width="3.2"/>
<path d="M444.3,249.8 L447.8,255.6 L451,261.7 L453.8,267.9" stroke="#757577" stroke-width="3.2"/>
<path d="M451,261.7 L453.8,267.9 L456.2,274.3 L458.2,280.8" stroke="#757577" stroke-width="3.2"/>
<path d="M456.2,274.3 L458.2,280.8 L459.9,287.4 L461.3,294" stroke="#757577" stroke-width="3.2"/>
<path d="M459.9,287.4 L461.3,294 L462.3,300.8 L463.1,307.5" stroke="#757577" stroke-width="3.2"/>
<path d="M462.3,300.8 L463.1,307.5 L463.7,314.3 L464,321.1" stroke="#757577" stroke-width="3.2"/>
<path d="M463.7,314.3 L464,321.1 L464.3,328 L464.4,334.8" stroke="#757577" stroke-width="3.2"/>
<path d="M464.3,328 L464.4,334.8 L464.4,341.6 L464.4,348.4" stroke="#747476" stroke-width="3.2"/>
<path d="M464.4,341.6 L464.4,348.4 L464.5,355.3 L464.6,362.1" stroke="#747476" stroke-width="3.2"/>
<path d="M464.5,355.3 L464.6,362.1 L464.8,368.9" stroke="#747476" stroke-width="3.2"/>
<path d="M289.1,201.1 L295.8,201.2 L302.6,201.3 L309.4,201.4" stroke="#7a7a7c" stroke-width="3.2"/>
<path d="M302.6,201.3 L309.4,201.4 L316.1,201.5 L322.9,201.7" stroke="#7a7a7c" stroke-width="3.2"/>
<path d="M316.1,201.5 L322.9,201.7 L329.6,202 L336.4,202.4" stroke="#7a7a7c" stroke-width="3.2"/>
<path d="M329.6,202 L336.4,202.4 L343.1,202.9 L349.8,203.6" stroke="#79797b" stroke-width="3.2"/>
<path d="M343.1,202.9 L349.8,203.6 L356.5,204.5 L363.2,205.5" stroke="#78787a" stroke-width="3.2"/>
<path d="M356.5,204.5 L363.2,205.5 L369.8,206.7 L376.4,208.2" stroke="#777779" stroke-width="3.2"/>
<path d="M369.8,206.7 L376.4,208.2 L382.9,209.9 L389.4,211.9" stroke="#757577" stroke-width="3.2"/>
<path d="M382.9,209.9 L389.4,211.9 L395.7,214.2 L402,216.8" stroke="#747476" stroke-width="3.2"/>
<path d="M395.7,214.2 L402,216.8 L408,219.7 L413.9,223" stroke="#737375" stroke-width="3.2"/>
<path d="M408,219.7 L413.9,223 L419.6,226.7 L425,230.8" stroke="#727274" stroke-width="3.2"/>
<path d="M419.6,226.7 L425,230.8 L430,235.3 L434.7,240.1 L439,245.4" stroke="#717173" stroke-width="3.2"/>
<path d="M434.7,240.1 L439,245.4 L442.8,250.9 L446.3,256.7" stroke="#707072" stroke-width="3.2"/>
<path d="M442.8,250.9 L446.3,256.7 L449.4,262.7 L452.2,268.9" stroke="#707072" stroke-width="3.2"/>
<path d="M449.4,262.7 L452.2,268.9 L454.6,275.2 L456.6,281.6" stroke="#707072" stroke-width="3.2"/>
<path d="M454.6,275.2 L456.6,281.6 L458.2,288.1 L459.6,294.8" stroke="#707072" stroke-width="3.2"/>
<path d="M458.2,288.1 L459.6,294.8 L460.6,301.4 L461.3,308.1" stroke="#707072" stroke-width="3.2"/>
<path d="M460.6,301.4 L461.3,308.1 L461.9,314.9 L462.2,321.6" stroke="#6f6f71" stroke-width="3.2"/>
<path d="M461.9,314.9 L462.2,321.6 L462.4,328.4 L462.5,335.1" stroke="#6f6f71" stroke-width="3.2"/>
<path d="M462.4,328.4 L462.5,335.1 L462.5,341.9 L462.5,348.6" stroke="#6f6f71" stroke-width="3.2"/>
<path d="M462.5,341.9 L462.5,348.6 L462.6,355.4 L462.7,362.1" stroke="#6f6f71" stroke-width="3.2"/>
<path d="M462.6,355.4 L462.7,362.1 L462.9,368.9" stroke="#6f6f71" stroke-width="3.2"/>
<path d="M289.1,203 L295.8,203 L302.5,203.1 L309.2,203.2" stroke="#757577" stroke-width="3.2"/>
<path d="M302.5,203.1 L309.2,203.2 L315.8,203.4 L322.5,203.6" stroke="#757577" stroke-width="3.2"/>
<path d="M315.8,203.4 L322.5,203.6 L329.2,203.8 L335.9,204.2" stroke="#757577" stroke-width="3.2"/>
<path d="M329.2,203.8 L335.9,204.2 L342.6,204.7 L349.2,205.4" stroke="#747476" stroke-width="3.2"/>
<path d="M342.6,204.7 L349.2,205.4 L355.9,206.2 L362.5,207.2" stroke="#737375" stroke-width="3.2"/>
<path d="M355.9,206.2 L362.5,207.2 L369,208.4 L375.6,209.8" stroke="#727274" stroke-width="3.2"/>
<path d="M369,208.4 L375.6,209.8 L382,211.5 L388.4,213.5" stroke="#717173" stroke-width="3.2"/>
<path d="M382,211.5 L388.4,213.5 L394.7,215.7 L400.9,218.3" stroke="#707072" stroke-width="3.2"/>
<path d="M394.7,215.7 L400.9,218.3 L406.9,221.1 L412.8,224.4" stroke="#6f6f71" stroke-width="3.2"/>
<path d="M406.9,221.1 L412.8,224.4 L418.4,228 L423.7,232" stroke="#6d6d6f" stroke-width="3.2"/>
<path d="M418.4,228 L423.7,232 L428.7,236.5 L433.3,241.3 L437.6,246.5" stroke="#6c6c6e" stroke-width="3.2"/>
<path d="M433.3,241.3 L437.6,246.5 L441.4,252 L444.8,257.7" stroke="#6c6c6e" stroke-width="3.2"/>
<path d="M441.4,252 L444.8,257.7 L447.9,263.7 L450.6,269.8" stroke="#6c6c6e" stroke-width="3.2"/>
<path d="M447.9,263.7 L450.6,269.8 L452.9,276.1 L454.9,282.4" stroke="#6b6b6d" stroke-width="3.2"/>
<path d="M452.9,276.1 L454.9,282.4 L456.5,288.9 L457.8,295.5" stroke="#6b6b6d" stroke-width="3.2"/>
<path d="M456.5,288.9 L457.8,295.5 L458.8,302.1 L459.5,308.7" stroke="#6b6b6d" stroke-width="3.2"/>
<path d="M458.8,302.1 L459.5,308.7 L460,315.4 L460.4,322.1" stroke="#6a6a6c" stroke-width="3.2"/>
<path d="M460,315.4 L460.4,322.1 L460.5,328.8 L460.6,335.4" stroke="#6a6a6c" stroke-width="3.2"/>
<path d="M460.5,328.8 L460.6,335.4 L460.6,342.1 L460.7,348.8" stroke="#6a6a6c" stroke-width="3.2"/>
<path d="M460.6,342.1 L460.7,348.8 L460.7,355.5 L460.8,362.2" stroke="#6a6a6c" stroke-width="3.2"/>
<path d="M460.7,355.5 L460.8,362.2 L461,368.9" stroke="#6a6a6c" stroke-width="3.2"/>
<path d="M289.1,204.8 L295.7,204.9 L302.3,205 L309,205.1" stroke="#717173" stroke-width="3.2"/>
<path d="M302.3,205 L309,205.1 L315.6,205.2 L322.2,205.4" stroke="#717173" stroke-width="3.2"/>
<path d="M315.6,205.2 L322.2,205.4 L328.8,205.7 L335.4,206" stroke="#717173" stroke-width="3.2"/>
<path d="M328.8,205.7 L335.4,206 L342,206.5 L348.6,207.1" stroke="#707072" stroke-width="3.2"/>
<path d="M342,206.5 L348.6,207.1 L355.2,207.9 L361.7,208.9" stroke="#707072" stroke-width="3.2"/>
<path d="M355.2,207.9 L361.7,208.9 L368.3,210.1 L374.7,211.5" stroke="#707072" stroke-width="3.2"/>
<path d="M368.3,210.1 L374.7,211.5 L381.1,213.1 L387.5,215" stroke="#707072" stroke-width="3.2"/>
<path d="M381.1,213.1 L387.5,215 L393.7,217.2 L399.8,219.7" stroke="#707072" stroke-width="3.2"/>
<path d="M393.7,217.2 L399.8,219.7 L405.8,222.6 L411.6,225.8" stroke="#6f6f71" stroke-width="3.2"/>
<path d="M405.8,222.6 L411.6,225.8 L417.2,229.4 L422.5,233.3" stroke="#6f6f71" stroke-width="3.2"/>
<path d="M417.2,229.4 L422.5,233.3 L427.4,237.7 L432,242.5 L436.2,247.7" stroke="#6f6f71" stroke-width="3.2"/>
<path d="M432,242.5 L436.2,247.7 L439.9,253.1 L443.3,258.8" stroke="#6d6d6f" stroke-width="3.2"/>
<path d="M439.9,253.1 L443.3,258.8 L446.4,264.7 L449,270.8" stroke="#6c6c6e" stroke-width="3.2"/>
<path d="M446.4,264.7 L449,270.8 L451.3,277 L453.3,283.3" stroke="#6a6a6c" stroke-width="3.2"/>
<path d="M451.3,277 L453.3,283.3 L454.8,289.7 L456.1,296.2" stroke="#69696b" stroke-width="3.2"/>
<path d="M454.8,289.7 L456.1,296.2 L457,302.7 L457.7,309.3" stroke="#68686a" stroke-width="3.2"/>
<path d="M457,302.7 L457.7,309.3 L458.2,315.9 L458.5,322.5" stroke="#676769" stroke-width="3.2"/>
<path d="M458.2,315.9 L458.5,322.5 L458.7,329.2 L458.7,335.8" stroke="#656567" stroke-width="3.2"/>
<path d="M458.7,329.2 L458.7,335.8 L458.8,342.4 L458.8,349" stroke="#646466" stroke-width="3.2"/>
<path d="M458.8,342.4 L458.8,349 L458.8,355.7 L458.9,362.3" stroke="#646466" stroke-width="3.2"/>
<path d="M458.8,355.7 L458.9,362.3 L459.2,368.9" stroke="#646466" stroke-width="3.2"/>
<path d="M289.1,206.7 L295.6,206.8 L302.2,206.9 L308.8,206.9" stroke="#6c6c6e" stroke-width="3.2"/>
<path d="M302.2,206.9 L308.8,206.9 L315.3,207.1 L321.9,207.2" stroke="#6c6c6e" stroke-width="3.2"/>
<path d="M315.3,207.1 L321.9,207.2 L328.4,207.5 L335,207.8" stroke="#6c6c6e" stroke-width="3.2"/>
<path d="M328.4,207.5 L335,207.8 L341.5,208.3 L348,208.9" stroke="#6e6e70" stroke-width="3.2"/>
<path d="M341.5,208.3 L348,208.9 L354.5,209.7 L361,210.6" stroke="#707072" stroke-width="3.2"/>
<path d="M354.5,209.7 L361,210.6 L367.5,211.8 L373.9,213.1" stroke="#727274" stroke-width="3.2"/>
<path d="M367.5,211.8 L373.9,213.1 L380.2,214.7 L386.5,216.6" stroke="#747476" stroke-width="3.2"/>
<path d="M380.2,214.7 L386.5,216.6 L392.7,218.8 L398.8,221.2" stroke="#767678" stroke-width="3.2"/>
<path d="M392.7,218.8 L398.8,221.2 L404.7,224 L410.4,227.2" stroke="#777779" stroke-width="3.2"/>
<path d="M404.7,224 L410.4,227.2 L416,230.7 L421.2,234.6" stroke="#79797b" stroke-width="3.2"/>
<path d="M416,230.7 L421.2,234.6 L426.1,239 L430.6,243.7 L434.8,248.8" stroke="#7b7b7d" stroke-width="3.2"/>
<path d="M430.6,243.7 L434.8,248.8 L438.5,254.2 L441.8,259.9" stroke="#777779" stroke-width="3.2"/>
<path d="M438.5,254.2 L441.8,259.9 L444.8,265.7 L447.4,271.7" stroke="#757577" stroke-width="3.2"/>
<path d="M444.8,265.7 L447.4,271.7 L449.7,277.9 L451.6,284.1" stroke="#727274" stroke-width="3.2"/>
<path d="M449.7,277.9 L451.6,284.1 L453.1,290.5 L454.4,296.9" stroke="#707072" stroke-width="3.2"/>
<path d="M453.1,290.5 L454.4,296.9 L455.3,303.4 L455.9,309.9" stroke="#6d6d6f" stroke-width="3.2"/>
<path d="M455.3,303.4 L455.9,309.9 L456.4,316.5 L456.7,323" stroke="#6a6a6c" stroke-width="3.2"/>
<path d="M456.4,316.5 L456.7,323 L456.8,329.6 L456.9,336.1" stroke="#68686a" stroke-width="3.2"/>
<path d="M456.8,329.6 L456.9,336.1 L456.9,342.7 L456.9,349.2" stroke="#666668" stroke-width="3.2"/>
<path d="M456.9,342.7 L456.9,349.2 L456.9,355.8 L457.1,362.4" stroke="#666668" stroke-width="3.2"/>
<path d="M456.9,355.8 L457.1,362.4 L457.3,368.9" stroke="#666668" stroke-width="3.2"/>
<path d="M289.1,208.5 L295.6,208.6 L302.1,208.7 L308.5,208.8" stroke="#69696b" stroke-width="3.2"/>
<path d="M302.1,208.7 L308.5,208.8 L315,208.9 L321.5,209.1" stroke="#69696b" stroke-width="3.2"/>
<path d="M315,208.9 L321.5,209.1 L328,209.3 L334.5,209.6" stroke="#6a6a6c" stroke-width="3.2"/>
<path d="M328,209.3 L334.5,209.6 L341,210.1 L347.4,210.7" stroke="#6f6f71" stroke-width="3.2"/>
<path d="M341,210.1 L347.4,210.7 L353.9,211.4 L360.3,212.3" stroke="#747476" stroke-width="3.2"/>
<path d="M353.9,211.4 L360.3,212.3 L366.7,213.4 L373,214.8" stroke="#78787a" stroke-width="3.2"/>
<path d="M366.7,213.4 L373,214.8 L379.3,216.3 L385.5,218.2" stroke="#7d7d7f" stroke-width="3.2"/>
<path d="M379.3,216.3 L385.5,218.2 L391.7,220.3 L397.7,222.7" stroke="#828284" stroke-width="3.2"/>
<path d="M391.7,220.3 L397.7,222.7 L403.6,225.4 L409.3,228.5" stroke="#868688" stroke-width="3.2"/>
<path d="M403.6,225.4 L409.3,228.5 L414.7,232 L419.9,235.9" stroke="#8b8b8d" stroke-width="3.2"/>
<path d="M414.7,232 L419.9,235.9 L424.8,240.2 L429.3,244.9 L433.3,250" stroke="#8f8f91" stroke-width="3.2"/>
<path d="M429.3,244.9 L433.3,250 L437,255.3 L440.3,260.9" stroke="#8a8a8c" stroke-width="3.2"/>
<path d="M437,255.3 L440.3,260.9 L443.3,266.7 L445.9,272.7" stroke="#858587" stroke-width="3.2"/>
<path d="M443.3,266.7 L445.9,272.7 L448.1,278.7 L449.9,285" stroke="#818183" stroke-width="3.2"/>
<path d="M448.1,278.7 L449.9,285 L451.4,291.3 L452.6,297.6" stroke="#7d7d7f" stroke-width="3.2"/>
<path d="M451.4,291.3 L452.6,297.6 L453.5,304.1 L454.1,310.5" stroke="#79797b" stroke-width="3.2"/>
<path d="M453.5,304.1 L454.1,310.5 L454.6,317 L454.8,323.5" stroke="#757577" stroke-width="3.2"/>
<path d="M454.6,317 L454.8,323.5 L455,330 L455,336.4" stroke="#717173" stroke-width="3.2"/>
<path d="M455,330 L455,336.4 L455,342.9 L455,349.4" stroke="#6e6e70" stroke-width="3.2"/>
<path d="M455,342.9 L455,349.4 L455,355.9 L455.2,362.4" stroke="#6e6e70" stroke-width="3.2"/>
<path d="M455,355.9 L455.2,362.4 L455.4,368.9" stroke="#6e6e70" stroke-width="3.2"/>
<path d="M289.1,210.4 L295.5,210.5 L301.9,210.6 L308.3,210.7" stroke="#68686a" stroke-width="3.2"/>
<path d="M301.9,210.6 L308.3,210.7 L314.8,210.8 L321.2,210.9" stroke="#68686a" stroke-width="3.2"/>
<path d="M314.8,210.8 L321.2,210.9 L327.6,211.1 L334,211.4" stroke="#6a6a6c" stroke-width="3.2"/>
<path d="M327.6,211.1 L334,211.4 L340.4,211.9 L346.8,212.4" stroke="#707072" stroke-width="3.2"/>
<path d="M340.4,211.9 L346.8,212.4 L353.2,213.1 L359.6,214" stroke="#777779" stroke-width="3.2"/>
<path d="M353.2,213.1 L359.6,214 L365.9,215.1 L372.2,216.4" stroke="#7e7e80" stroke-width="3.2"/>
<path d="M365.9,215.1 L372.2,216.4 L378.4,218 L384.6,219.7" stroke="#858587" stroke-width="3.2"/>
<path d="M378.4,218 L384.6,219.7 L390.7,221.8 L396.6,224.2" stroke="#8c8c8e" stroke-width="3.2"/>
<path d="M390.7,221.8 L396.6,224.2 L402.5,226.9 L408.1,229.9" stroke="#929294" stroke-width="3.2"/>
<path d="M402.5,226.9 L408.1,229.9 L413.5,233.4 L418.7,237.2" stroke="#99999b" stroke-width="3.2"/>
<path d="M413.5,233.4 L418.7,237.2 L423.5,241.5 L427.9,246.1 L431.9,251.1" stroke="#9f9fa1" stroke-width="3.2"/>
<path d="M427.9,246.1 L431.9,251.1 L435.6,256.4 L438.9,262" stroke="#99999b" stroke-width="3.2"/>
<path d="M435.6,256.4 L438.9,262 L441.7,267.7 L444.3,273.6" stroke="#959597" stroke-width="3.2"/>
<path d="M441.7,267.7 L444.3,273.6 L446.4,279.6 L448.3,285.8" stroke="#909092" stroke-width="3.2"/>
<path d="M446.4,279.6 L448.3,285.8 L449.7,292 L450.9,298.4" stroke="#8c8c8e" stroke-width="3.2"/>
<path d="M449.7,292 L450.9,298.4 L451.7,304.7 L452.3,311.1" stroke="#878789" stroke-width="3.2"/>
<path d="M451.7,304.7 L452.3,311.1 L452.7,317.5 L453,323.9" stroke="#838385" stroke-width="3.2"/>
<path d="M452.7,317.5 L453,323.9 L453.1,330.4 L453.1,336.8" stroke="#7e7e80" stroke-width="3.2"/>
<path d="M453.1,330.4 L453.1,336.8 L453.1,343.2 L453.1,349.6" stroke="#7b7b7d" stroke-width="3.2"/>
<path d="M453.1,343.2 L453.1,349.6 L453.2,356.1 L453.3,362.5" stroke="#7b7b7d" stroke-width="3.2"/>
<path d="M453.2,356.1 L453.3,362.5 L453.6,368.9" stroke="#7b7b7d" stroke-width="3.2"/>
<path d="M289.1,212.3 L295.4,212.4 L301.8,212.4 L308.1,212.5" stroke="#828284" stroke-width="3.2"/>
<path d="M301.8,212.4 L308.1,212.5 L314.5,212.6 L320.9,212.8" stroke="#828284" stroke-width="3.2"/>
<path d="M314.5,212.6 L320.9,212.8 L327.2,213 L333.6,213.3" stroke="#838385" stroke-width="3.2"/>
<path d="M327.2,213 L333.6,213.3 L339.9,213.7 L346.2,214.2" stroke="#88888a" stroke-width="3.2"/>
<path d="M339.9,213.7 L346.2,214.2 L352.6,214.9 L358.9,215.7" stroke="#8e8e90" stroke-width="3.2"/>
<path d="M352.6,214.9 L358.9,215.7 L365.1,216.8 L371.4,218.1" stroke="#939395" stroke-width="3.2"/>
<path d="M365.1,216.8 L371.4,218.1 L377.5,219.6 L383.6,221.3" stroke="#99999b" stroke-width="3.2"/>
<path d="M377.5,219.6 L383.6,221.3 L389.7,223.3 L395.6,225.7" stroke="#9e9ea0" stroke-width="3.2"/>
<path d="M389.7,223.3 L395.6,225.7 L401.3,228.3 L406.9,231.3" stroke="#a3a3a5" stroke-width="3.2"/>
<path d="M401.3,228.3 L406.9,231.3 L412.3,234.7 L417.4,238.5" stroke="#a9a9ab" stroke-width="3.2"/>
<path d="M412.3,234.7 L417.4,238.5 L422.2,242.7 L426.6,247.3 L430.5,252.3" stroke="#adadaf" stroke-width="3.2"/>
<path d="M426.6,247.3 L430.5,252.3 L434.1,257.5 L437.4,263" stroke="#a8a8aa" stroke-width="3.2"/>
<path d="M434.1,257.5 L437.4,263 L440.2,268.7 L442.7,274.6" stroke="#a3a3a5" stroke-width="3.2"/>
<path d="M440.2,268.7 L442.7,274.6 L444.8,280.5 L446.6,286.6" stroke="#9f9fa1" stroke-width="3.2"/>
<path d="M444.8,280.5 L446.6,286.6 L448,292.8 L449.1,299.1" stroke="#9b9b9d" stroke-width="3.2"/>
<path d="M448,292.8 L449.1,299.1 L450,305.4 L450.6,311.7" stroke="#979799" stroke-width="3.2"/>
<path d="M450,305.4 L450.6,311.7 L450.9,318 L451.1,324.4" stroke="#929294" stroke-width="3.2"/>
<path d="M450.9,318 L451.1,324.4 L451.2,330.8 L451.3,337.1" stroke="#8e8e90" stroke-width="3.2"/>
<path d="M451.2,330.8 L451.3,337.1 L451.2,343.5 L451.2,349.8" stroke="#8b8b8d" stroke-width="3.2"/>
<path d="M451.2,343.5 L451.2,349.8 L451.3,356.2 L451.4,362.6" stroke="#8b8b8d" stroke-width="3.2"/>
<path d="M451.3,356.2 L451.4,362.6 L451.7,368.9" stroke="#8b8b8d" stroke-width="3.2"/>
<path d="M289.1,214.1 L295.3,214.2 L301.6,214.3 L307.9,214.4" stroke="#a5a5a7" stroke-width="3.2"/>
<path d="M301.6,214.3 L307.9,214.4 L314.2,214.5 L320.5,214.6" stroke="#a5a5a7" stroke-width="3.2"/>
<path d="M314.2,214.5 L320.5,214.6 L326.8,214.8 L333.1,215.1" stroke="#a6a6a8" stroke-width="3.2"/>
<path d="M326.8,214.8 L333.1,215.1 L339.4,215.4 L345.7,215.9" stroke="#a9a9ab" stroke-width="3.2"/>
<path d="M339.4,215.4 L345.7,215.9 L351.9,216.6 L358.1,217.4" stroke="#acacae" stroke-width="3.2"/>
<path d="M351.9,216.6 L358.1,217.4 L364.3,218.5 L370.5,219.7" stroke="#aeaeb0" stroke-width="3.2"/>
<path d="M364.3,218.5 L370.5,219.7 L376.6,221.2 L382.7,222.9" stroke="#b1b1b3" stroke-width="3.2"/>
<path d="M376.6,221.2 L382.7,222.9 L388.6,224.9 L394.5,227.1" stroke="#b4b4b6" stroke-width="3.2"/>
<path d="M388.6,224.9 L394.5,227.1 L400.2,229.7 L405.8,232.7" stroke="#b7b7b9" stroke-width="3.2"/>
<path d="M400.2,229.7 L405.8,232.7 L411.1,236 L416.2,239.8" stroke="#bababc" stroke-width="3.2"/>
<path d="M411.1,236 L416.2,239.8 L420.9,244 L425.2,248.5 L429.1,253.4" stroke="#bbbbbd" stroke-width="3.2"/>
<path d="M425.2,248.5 L429.1,253.4 L432.7,258.6 L435.9,264.1" stroke="#b6b6b8" stroke-width="3.2"/>
<path d="M432.7,258.6 L435.9,264.1 L438.7,269.7 L441.1,275.5" stroke="#b1b1b3" stroke-width="3.2"/>
<path d="M438.7,269.7 L441.1,275.5 L443.2,281.4 L444.9,287.5" stroke="#adadaf" stroke-width="3.2"/>
<path d="M443.2,281.4 L444.9,287.5 L446.3,293.6 L447.4,299.8" stroke="#a8a8aa" stroke-width="3.2"/>
<path d="M446.3,293.6 L447.4,299.8 L448.2,306 L448.8,312.3" stroke="#a3a3a5" stroke-width="3.2"/>
<path d="M448.2,306 L448.8,312.3 L449.1,318.6 L449.3,324.9" stroke="#9f9fa1" stroke-width="3.2"/>
<path d="M449.1,318.6 L449.3,324.9 L449.4,331.2 L449.4,337.4" stroke="#9a9a9c" stroke-width="3.2"/>
<path d="M449.4,331.2 L449.4,337.4 L449.4,343.7 L449.3,350" stroke="#979799" stroke-width="3.2"/>
<path d="M449.4,343.7 L449.3,350 L449.4,356.3 L449.5,362.6" stroke="#979799" stroke-width="3.2"/>
<path d="M449.4,356.3 L449.5,362.6 L449.8,368.9" stroke="#979799" stroke-width="3.2"/>
<path d="M289,216 L295.3,216.1 L301.5,216.2 L307.7,216.2" stroke="#b8b8ba" stroke-width="3.2"/>
<path d="M301.5,216.2 L307.7,216.2 L314,216.3 L320.2,216.4" stroke="#b8b8ba" stroke-width="3.2"/>
<path d="M314,216.3 L320.2,216.4 L326.4,216.6 L332.6,216.9" stroke="#b8b8ba" stroke-width="3.2"/>
<path d="M326.4,216.6 L332.6,216.9 L338.9,217.2 L345.1,217.7" stroke="#bababc" stroke-width="3.2"/>
<path d="M338.9,217.2 L345.1,217.7 L351.3,218.3 L357.4,219.1" stroke="#bcbcbe" stroke-width="3.2"/>
<path d="M351.3,218.3 L357.4,219.1 L363.6,220.1 L369.7,221.3" stroke="#bebec0" stroke-width="3.2"/>
<path d="M363.6,220.1 L369.7,221.3 L375.7,222.8 L381.7,224.4" stroke="#c0c0c2" stroke-width="3.2"/>
<path d="M375.7,222.8 L381.7,224.4 L387.6,226.4 L393.4,228.6" stroke="#c2c2c4" stroke-width="3.2"/>
<path d="M387.6,226.4 L393.4,228.6 L399.1,231.2 L404.6,234.1" stroke="#c4c4c6" stroke-width="3.2"/>
<path d="M399.1,231.2 L404.6,234.1 L409.9,237.4 L414.9,241.1" stroke="#c6c6c8" stroke-width="3.2"/>
<path d="M409.9,237.4 L414.9,241.1 L419.6,245.2 L423.8,249.7 L427.7,254.6" stroke="#c7c7c9" stroke-width="3.2"/>
<path d="M423.8,249.7 L427.7,254.6 L431.2,259.7 L434.4,265.1" stroke="#c1c1c3" stroke-width="3.2"/>
<path d="M431.2,259.7 L434.4,265.1 L437.1,270.7 L439.5,276.5" stroke="#bdbdbf" stroke-width="3.2"/>
<path d="M437.1,270.7 L439.5,276.5 L441.6,282.3 L443.3,288.3" stroke="#b8b8ba" stroke-width="3.2"/>
<path d="M441.6,282.3 L443.3,288.3 L444.6,294.4 L445.7,300.5" stroke="#b4b4b6" stroke-width="3.2"/>
<path d="M444.6,294.4 L445.7,300.5 L446.4,306.7 L447,312.9" stroke="#afafb1" stroke-width="3.2"/>
<path d="M446.4,306.7 L447,312.9 L447.3,319.1 L447.5,325.3" stroke="#ababad" stroke-width="3.2"/>
<path d="M447.3,319.1 L447.5,325.3 L447.5,331.6 L447.5,337.8" stroke="#a6a6a8" stroke-width="3.2"/>
<path d="M447.5,331.6 L447.5,337.8 L447.5,344 L447.5,350.2" stroke="#a3a3a5" stroke-width="3.2"/>
<path d="M447.5,344 L447.5,350.2 L447.5,356.5 L447.7,362.7" stroke="#a3a3a5" stroke-width="3.2"/>
<path d="M447.5,356.5 L447.7,362.7 L448,368.9" stroke="#a3a3a5" stroke-width="3.2"/>
<path d="M289,217.9 L295.2,218 L301.4,218 L307.5,218.1" stroke="#c6c6c8" stroke-width="3.2"/>
<path d="M301.4,218 L307.5,218.1 L313.7,218.2 L319.9,218.3" stroke="#c6c6c8" stroke-width="3.2"/>
<path d="M313.7,218.2 L319.9,218.3 L326,218.4 L332.2,218.7" stroke="#c6c6c8" stroke-width="3.2"/>
<path d="M326,218.4 L332.2,218.7 L338.3,219 L344.5,219.5" stroke="#c7c7c9" stroke-width="3.2"/>
<path d="M338.3,219 L344.5,219.5 L350.6,220.1 L356.7,220.9" stroke="#c9c9cb" stroke-width="3.2"/>
<path d="M350.6,220.1 L356.7,220.9 L362.8,221.8 L368.8,223" stroke="#cacacc" stroke-width="3.2"/>
<path d="M362.8,221.8 L368.8,223 L374.8,224.4 L380.8,226" stroke="#cbcbcd" stroke-width="3.2"/>
<path d="M374.8,224.4 L380.8,226 L386.6,227.9 L392.4,230.1" stroke="#ccccce" stroke-width="3.2"/>
<path d="M386.6,227.9 L392.4,230.1 L398,232.6 L403.5,235.5" stroke="#ceced0" stroke-width="3.2"/>
<path d="M398,232.6 L403.5,235.5 L408.7,238.7 L413.6,242.4" stroke="#cfcfd1" stroke-width="3.2"/>
<path d="M408.7,238.7 L413.6,242.4 L418.3,246.5 L422.5,250.9 L426.3,255.7" stroke="#cfcfd1" stroke-width="3.2"/>
<path d="M422.5,250.9 L426.3,255.7 L429.8,260.8 L432.9,266.2" stroke="#cacacc" stroke-width="3.2"/>
<path d="M429.8,260.8 L432.9,266.2 L435.6,271.7 L437.9,277.4" stroke="#c6c6c8" stroke-width="3.2"/>
<path d="M435.6,271.7 L437.9,277.4 L439.9,283.2 L441.6,289.2" stroke="#c2c2c4" stroke-width="3.2"/>
<path d="M439.9,283.2 L441.6,289.2 L442.9,295.2 L443.9,301.2" stroke="#bebec0" stroke-width="3.2"/>
<path d="M442.9,295.2 L443.9,301.2 L444.7,307.4 L445.2,313.5" stroke="#bababc" stroke-width="3.2"/>
<path d="M444.7,307.4 L445.2,313.5 L445.5,319.6 L445.6,325.8" stroke="#b6b6b8" stroke-width="3.2"/>
<path d="M445.5,319.6 L445.6,325.8 L445.7,332 L445.6,338.1" stroke="#b2b2b4" stroke-width="3.2"/>
<path d="M445.7,332 L445.6,338.1 L445.6,344.3 L445.6,350.4" stroke="#b0b0b2" stroke-width="3.2"/>
<path d="M445.6,344.3 L445.6,350.4 L445.6,356.6 L445.8,362.8" stroke="#b0b0b2" stroke-width="3.2"/>
<path d="M445.6,356.6 L445.8,362.8 L446.1,368.9" stroke="#b0b0b2" stroke-width="3.2"/>
<path d="M289,219.7 L295.1,219.8 L301.2,219.9 L307.3,220" stroke="#d1d1d3" stroke-width="3.2"/>
<path d="M301.2,219.9 L307.3,220 L313.4,220 L319.5,220.1" stroke="#d1d1d3" stroke-width="3.2"/>
<path d="M313.4,220 L319.5,220.1 L325.6,220.3 L331.7,220.5" stroke="#d1d1d3" stroke-width="3.2"/>
<path d="M325.6,220.3 L331.7,220.5 L337.8,220.8 L343.9,221.2" stroke="#d2d2d4" stroke-width="3.2"/>
<path d="M337.8,220.8 L343.9,221.2 L349.9,221.8 L356,222.6" stroke="#d3d3d5" stroke-width="3.2"/>
<path d="M349.9,221.8 L356,222.6 L362,223.5 L368,224.6" stroke="#d4d4d6" stroke-width="3.2"/>
<path d="M362,223.5 L368,224.6 L373.9,226 L379.8,227.6" stroke="#d4d4d6" stroke-width="3.2"/>
<path d="M373.9,226 L379.8,227.6 L385.6,229.4 L391.3,231.6" stroke="#d5d5d7" stroke-width="3.2"/>
<path d="M385.6,229.4 L391.3,231.6 L396.9,234 L402.3,236.9" stroke="#d6d6d8" stroke-width="3.2"/>
<path d="M396.9,234 L402.3,236.9 L407.5,240.1 L412.4,243.7" stroke="#d7d7d9" stroke-width="3.2"/>
<path d="M407.5,240.1 L412.4,243.7 L416.9,247.7 L421.1,252.1 L424.9,256.9" stroke="#d7d7d9" stroke-width="3.2"/>
<path d="M421.1,252.1 L424.9,256.9 L428.3,262 L431.4,267.2" stroke="#d3d3d5" stroke-width="3.2"/>
<path d="M428.3,262 L431.4,267.2 L434,272.7 L436.4,278.4" stroke="#d0d0d2" stroke-width="3.2"/>
<path d="M434,272.7 L436.4,278.4 L438.3,284.1 L439.9,290" stroke="#cdcdcf" stroke-width="3.2"/>
<path d="M438.3,284.1 L439.9,290 L441.2,295.9 L442.2,302" stroke="#cacacc" stroke-width="3.2"/>
<path d="M441.2,295.9 L442.2,302 L442.9,308 L443.4,314.1" stroke="#c6c6c8" stroke-width="3.2"/>
<path d="M442.9,308 L443.4,314.1 L443.6,320.2 L443.8,326.3" stroke="#c3c3c5" stroke-width="3.2"/>
<path d="M443.6,320.2 L443.8,326.3 L443.8,332.4 L443.8,338.5" stroke="#c0c0c2" stroke-width="3.2"/>
<path d="M443.8,332.4 L443.8,338.5 L443.7,344.5 L443.7,350.6" stroke="#bebec0" stroke-width="3.2"/>
<path d="M443.7,344.5 L443.7,350.6 L443.7,356.7 L443.9,362.8" stroke="#bebec0" stroke-width="3.2"/>
<path d="M443.7,356.7 L443.9,362.8 L444.2,368.9" stroke="#bebec0" stroke-width="3.2"/>
<path d="M289,221.6 L295.1,221.7 L301.1,221.8 L307.1,221.8" stroke="#dbdbdd" stroke-width="3.2"/>
<path d="M301.1,221.8 L307.1,221.8 L313.2,221.9 L319.2,221.9" stroke="#dbdbdd" stroke-width="3.2"/>
<path d="M313.2,221.9 L319.2,221.9 L325.2,222.1 L331.2,222.3" stroke="#dbdbdd" stroke-width="3.2"/>
<path d="M325.2,222.1 L331.2,222.3 L337.3,222.6 L343.3,223" stroke="#dcdcde" stroke-width="3.2"/>
<path d="M337.3,222.6 L343.3,223 L349.3,223.6 L355.3,224.3" stroke="#dcdcde" stroke-width="3.2"/>
<path d="M349.3,223.6 L355.3,224.3 L361.2,225.2 L367.1,226.3" stroke="#dddddf" stroke-width="3.2"/>
<path d="M361.2,225.2 L367.1,226.3 L373,227.6 L378.9,229.1" stroke="#dddddf" stroke-width="3.2"/>
<path d="M373,227.6 L378.9,229.1 L384.6,230.9 L390.2,233" stroke="#dedee0" stroke-width="3.2"/>
<path d="M384.6,230.9 L390.2,233 L395.8,235.5 L401.1,238.2" stroke="#dedee0" stroke-width="3.2"/>
<path d="M395.8,235.5 L401.1,238.2 L406.3,241.4 L411.1,245" stroke="#dfdfe1" stroke-width="3.2"/>
<path d="M406.3,241.4 L411.1,245 L415.6,248.9 L419.8,253.3 L423.5,258.1" stroke="#dfdfe1" stroke-width="3.2"/>
<path d="M419.8,253.3 L423.5,258.1 L426.9,263.1 L429.9,268.3" stroke="#dcdcde" stroke-width="3.2"/>
<path d="M426.9,263.1 L429.9,268.3 L432.5,273.7 L434.8,279.3" stroke="#dadadc" stroke-width="3.2"/>
<path d="M432.5,273.7 L434.8,279.3 L436.7,285 L438.3,290.8" stroke="#d7d7d9" stroke-width="3.2"/>
<path d="M436.7,285 L438.3,290.8 L439.5,296.7 L440.5,302.7" stroke="#d5d5d7" stroke-width="3.2"/>
<path d="M439.5,296.7 L440.5,302.7 L441.1,308.7 L441.6,314.7" stroke="#d3d3d5" stroke-width="3.2"/>
<path d="M441.1,308.7 L441.6,314.7 L441.8,320.7 L441.9,326.7" stroke="#d1d1d3" stroke-width="3.2"/>
<path d="M441.8,320.7 L441.9,326.7 L441.9,332.8 L441.9,338.8" stroke="#ceced0" stroke-width="3.2"/>
<path d="M441.9,332.8 L441.9,338.8 L441.8,344.8 L441.8,350.8" stroke="#cdcdcf" stroke-width="3.2"/>
<path d="M441.8,344.8 L441.8,350.8 L441.9,356.9 L442,362.9" stroke="#cdcdcf" stroke-width="3.2"/>
<path d="M441.9,356.9 L442,362.9 L442.4,368.9" stroke="#cdcdcf" stroke-width="3.2"/>
<path d="M289,223.5 L295,223.6 L301,223.6 L306.9,223.7" stroke="#e3e3e5" stroke-width="3.2"/>
<path d="M301,223.6 L306.9,223.7 L312.9,223.7 L318.8,223.8" stroke="#e3e3e5" stroke-width="3.2"/>
<path d="M312.9,223.7 L318.8,223.8 L324.8,223.9 L330.8,224.1" stroke="#e3e3e5" stroke-width="3.2"/>
<path d="M324.8,223.9 L330.8,224.1 L336.7,224.4 L342.7,224.8" stroke="#e3e3e5" stroke-width="3.2"/>
<path d="M336.7,224.4 L342.7,224.8 L348.6,225.3 L354.5,226" stroke="#e4e4e6" stroke-width="3.2"/>
<path d="M348.6,225.3 L354.5,226 L360.4,226.8 L366.3,227.9" stroke="#e4e4e6" stroke-width="3.2"/>
<path d="M360.4,226.8 L366.3,227.9 L372.1,229.2 L377.9,230.7" stroke="#e4e4e6" stroke-width="3.2"/>
<path d="M372.1,229.2 L377.9,230.7 L383.6,232.5 L389.2,234.5" stroke="#e4e4e6" stroke-width="3.2"/>
<path d="M383.6,232.5 L389.2,234.5 L394.7,236.9 L400,239.6" stroke="#e4e4e6" stroke-width="3.2"/>
<path d="M394.7,236.9 L400,239.6 L405,242.7 L409.9,246.3" stroke="#e4e4e6" stroke-width="3.2"/>
<path d="M405,242.7 L409.9,246.3 L414.3,250.2 L418.4,254.5 L422.1,259.2" stroke="#e4e4e6" stroke-width="3.2"/>
<path d="M418.4,254.5 L422.1,259.2 L425.4,264.2 L428.4,269.3" stroke="#e3e3e5" stroke-width="3.2"/>
<path d="M425.4,264.2 L428.4,269.3 L431,274.7 L433.2,280.3" stroke="#e1e1e3" stroke-width="3.2"/>
<path d="M431,274.7 L433.2,280.3 L435.1,285.9 L436.6,291.7" stroke="#e0e0e2" stroke-width="3.2"/>
<path d="M435.1,285.9 L436.6,291.7 L437.8,297.5 L438.7,303.4" stroke="#dfdfe1" stroke-width="3.2"/>
<path d="M437.8,297.5 L438.7,303.4 L439.4,309.3 L439.8,315.3" stroke="#dedee0" stroke-width="3.2"/>
<path d="M439.4,309.3 L439.8,315.3 L440,321.2 L440.1,327.2" stroke="#dddddf" stroke-width="3.2"/>
<path d="M440,321.2 L440.1,327.2 L440.1,333.2 L440,339.1" stroke="#dbdbdd" stroke-width="3.2"/>
<path d="M440.1,333.2 L440,339.1 L440,345.1 L439.9,351" stroke="#dbdbdd" stroke-width="3.2"/>
<path d="M440,345.1 L439.9,351 L440,357 L440.1,363" stroke="#dbdbdd" stroke-width="3.2"/>
<path d="M440,357 L440.1,363 L440.5,368.9" stroke="#dbdbdd" stroke-width="3.2"/>
<path d="M289,225.3 L294.9,225.4 L300.8,225.5 L306.7,225.5" stroke="#e9e9eb" stroke-width="3.2"/>
<path d="M300.8,225.5 L306.7,225.5 L312.6,225.6 L318.5,225.6" stroke="#e9e9eb" stroke-width="3.2"/>
<path d="M312.6,225.6 L318.5,225.6 L324.4,225.7 L330.3,225.9" stroke="#e9e9eb" stroke-width="3.2"/>
<path d="M324.4,225.7 L330.3,225.9 L336.2,226.2 L342.1,226.5" stroke="#e9e9eb" stroke-width="3.2"/>
<path d="M336.2,226.2 L342.1,226.5 L348,227 L353.8,227.7" stroke="#e9e9eb" stroke-width="3.2"/>
<path d="M348,227 L353.8,227.7 L359.7,228.5 L365.5,229.6" stroke="#e9e9eb" stroke-width="3.2"/>
<path d="M359.7,228.5 L365.5,229.6 L371.2,230.8 L376.9,232.3" stroke="#e9e9eb" stroke-width="3.2"/>
<path d="M371.2,230.8 L376.9,232.3 L382.6,234 L388.1,236" stroke="#e9e9eb" stroke-width="3.2"/>
<path d="M382.6,234 L388.1,236 L393.5,238.3 L398.8,241" stroke="#e9e9eb" stroke-width="3.2"/>
<path d="M393.5,238.3 L398.8,241 L403.8,244.1 L408.6,247.5" stroke="#e9e9eb" stroke-width="3.2"/>
<path d="M403.8,244.1 L408.6,247.5 L413,251.4 L417.1,255.7 L420.7,260.4" stroke="#e9e9eb" stroke-width="3.2"/>
<path d="M417.1,255.7 L420.7,260.4 L424,265.3 L426.9,270.4" stroke="#e9e9eb" stroke-width="3.2"/>
<path d="M424,265.3 L426.9,270.4 L429.4,275.7 L431.6,281.2" stroke="#e8e8ea" stroke-width="3.2"/>
<path d="M429.4,275.7 L431.6,281.2 L433.4,286.8 L434.9,292.5" stroke="#e7e7e9" stroke-width="3.2"/>
<path d="M433.4,286.8 L434.9,292.5 L436.1,298.3 L437,304.1" stroke="#e7e7e9" stroke-width="3.2"/>
<path d="M436.1,298.3 L437,304.1 L437.6,310 L438,315.9" stroke="#e6e6e8" stroke-width="3.2"/>
<path d="M437.6,310 L438,315.9 L438.2,321.8 L438.2,327.7" stroke="#e6e6e8" stroke-width="3.2"/>
<path d="M438.2,321.8 L438.2,327.7 L438.2,333.6 L438.2,339.5" stroke="#e5e5e7" stroke-width="3.2"/>
<path d="M438.2,333.6 L438.2,339.5 L438.1,345.4 L438,351.2" stroke="#e5e5e7" stroke-width="3.2"/>
<path d="M438.1,345.4 L438,351.2 L438.1,357.1 L438.3,363" stroke="#e5e5e7" stroke-width="3.2"/>
<path d="M438.1,357.1 L438.3,363 L438.6,368.9" stroke="#e5e5e7" stroke-width="3.2"/>
</g>
<path d="M289.2,140.5 L298.1,140.5 L307.1,140.7 L316,141 L324.9,141.4 L333.8,142 L342.7,142.8 L351.5,143.7 L360.4,144.9 L369.2,146.3 L377.9,148 L386.6,150 L395.2,152.2 L403.8,154.8 L412.2,157.8 L420.5,161 L428.6,164.7 L436.5,168.7 L444.3,173.2 L451.8,178 L459,183.2 L465.9,188.8 L472.5,194.8 L478.7,201.2 L484.6,207.9 L490,215 L494.9,222.4 L499.5,230.1 L503.7,238 L507.4,246.1 L510.7,254.4 L513.5,262.8 L516,271.4 L518,280 L519.7,288.8 L521,297.6 L522.1,306.5 L522.8,315.3 L523.3,324.2 L523.7,333.2 L523.8,342.1 L523.8,351 L523.7,359.9 L523.6,368.8" fill="none" stroke="#231f20" stroke-width="2.7"/>
<path d="M289,226.3 L294.9,226.4 L300.8,226.4 L306.6,226.5 L312.5,226.5 L318.3,226.5 L324.2,226.6 L330.1,226.8 L335.9,227 L341.8,227.4 L347.6,227.9 L353.5,228.5 L359.3,229.4 L365,230.4 L370.8,231.6 L376.5,233 L382.1,234.8 L387.6,236.7 L393,239 L398.2,241.7 L403.2,244.7 L408,248.2 L412.4,252.1 L416.4,256.3 L420,260.9 L423.3,265.8 L426.1,270.9 L428.7,276.2 L430.8,281.7 L432.6,287.3 L434.1,292.9 L435.3,298.7 L436.1,304.5 L436.7,310.3 L437.1,316.2 L437.3,322 L437.3,327.9 L437.3,333.8 L437.2,339.6 L437.1,345.5 L437.1,351.3 L437.1,357.2 L437.3,363.1 L437.7,368.9" fill="none" stroke="#231f20" stroke-width="2.7"/>
<path d="M15.5,149.8 H7.2 C2.8,149.8 1.5,155.5 1.5,161.5 V207 C1.5,213 2.8,218.6 7.2,218.6 H15.5 Z" fill="url(#gStub)" stroke="#231f20" stroke-width="2.6" stroke-linejoin="round"/>
<path d="M186.5,107.6 C193,108.6 199,113 203,119 C205.5,123 207.5,125.6 211,126.3 V242.2 C207.5,243.4 205.6,245.4 203.6,248 C199.6,253.6 193,258.6 186.5,260.6 Z" fill="url(#gTaper)" stroke="#231f20" stroke-width="2.2" stroke-linejoin="round"/>
<linearGradient id="gTapH" gradientUnits="userSpaceOnUse" x1="187" y1="0" x2="210" y2="0"><stop offset="0" stop-color="#fff" stop-opacity="0.28"/><stop offset="0.5" stop-color="#fff" stop-opacity="0.05"/><stop offset="1" stop-color="#000" stop-opacity="0.10"/></linearGradient>
<path d="M187.5,109 C193,109.6 199,114 203,120 C205.5,124 207.5,126.6 209.5,127.3 V241.2 C207.5,242.2 205.6,244.2 203.4,247 C199.4,252.6 193,257.4 187.5,259.4 Z" fill="url(#gTapH)"/>
<path d="M209.8,126.6 H221 Q227.4,127.2 228.2,134.5 V233.6 Q227.4,241 221,241.8 H209.8 Z" fill="url(#gRib1)"/>
<path d="M228.2,130.6 H234.6 Q239.6,131.4 240.8,138.6 V228 Q239.6,234.4 234.6,235.2 H228.2 Z" fill="url(#gRib2)"/>
<path d="M209.8,126.6 H221 Q227.4,127.2 228.2,134.5 V233.6 Q227.4,241 221,241.8 H209.8 Z" fill="url(#gRibV)"/>
<path d="M228.2,130.6 H234.6 Q239.6,131.4 240.8,138.6 V228 Q239.6,234.4 234.6,235.2 H228.2 Z" fill="url(#gRibV)"/>
<path d="M209.8,126.6 H221 Q227.4,127.2 228.2,134.5 V233.6 Q227.4,241 221,241.8 H209.8 Z" fill="none" stroke="#231f20" stroke-width="2.2" stroke-linejoin="round"/>
<path d="M228.2,130.6 H234.6 Q239.6,131.4 240.8,138.6 V228 Q239.6,234.4 234.6,235.2 H228.2 Z" fill="none" stroke="#231f20" stroke-width="2.2" stroke-linejoin="round"/>
<path d="M209.8,139.7 H242" stroke="#231f20" stroke-width="2" fill="none"/>
<path d="M209.8,143.2 H242" stroke="#231f20" stroke-width="1.6" fill="none"/>
<path d="M209.8,180 H242" stroke="#231f20" stroke-width="2" fill="none"/>
<path d="M209.8,184 H242" stroke="#231f20" stroke-width="1.6" fill="none"/>
<path d="M209.8,222.1 H242" stroke="#231f20" stroke-width="2" fill="none"/>
<path d="M209.8,225.9 H242" stroke="#231f20" stroke-width="1.6" fill="none"/>
<path d="M21.4,96.6 H177 C181.5,96.8 184.6,100.6 186.6,107.6 V260.2 Q183,265.4 176.6,270.5 H21.4 C16.5,270.5 15.2,264 15.2,257 V110 C15.2,103 16.5,96.6 21.4,96.6 Z" fill="url(#gFer)" stroke="#231f20" stroke-width="2.1" stroke-linejoin="round"/>
<path d="M16.2,110 C16.2,104 17.5,97.6 21.4,97.6 H25 V269.5 H21.4 C17.5,269.5 16.2,263 16.2,257 Z" fill="url(#gBevL)"/>
<rect x="164" y="97.6" width="7.4" height="171.9" fill="url(#gBevR)"/>
<path d="M172.3,96.6 H177 C181.5,96.8 184.6,100.6 186.6,107.6 V260.2 Q183,265.4 176.6,270.5 H172.3 Z" fill="url(#gRing)" stroke="#231f20" stroke-width="2.1" stroke-linejoin="round"/>
<path d="M259,132.4 H287 Q290.5,132.6 290.7,136.5 V229.3 Q290.5,233.2 287,233.4 H259 Z" fill="url(#gCol)" stroke="#231f20" stroke-width="2.6" stroke-linejoin="round"/>
<path d="M244.2,118.1 H256.6 L259,129 V148 L259.6,180 L259,210 V236 L256.6,246 H244.4 L241.8,235 V210 L241.2,180 L241.8,148 V130 Z" fill="#2e2d2f" stroke="#231f20" stroke-width="2.2" stroke-linejoin="round"/>
<path d="M245.3,119.4 H255.6 L254.5,147.1 H246.4 Z" fill="url(#gN1h)"/>
<path d="M246.6,149.2 H254.8 C257.3,165 257.4,192 254.6,208.7 H247.1 C243.7,192 243.7,165 246.6,149.2 Z" fill="url(#gN2)"/>
<path d="M246.6,210.9 H254.5 C256.6,216 258,224 257.9,230 C257.7,236 256.6,241 255.6,244.9 H245.3 C244.3,241 243.8,236 243.8,230 C243.8,224 244.6,216 246.6,210.9 Z" fill="url(#gN3)"/>
<path d="M395.6,428.8 V400.6 C396,397.6 400,396 407,395.9 H559.5 C565,396.2 569,397.6 569.6,401.6 V428.8 Z" fill="url(#gFl2)" stroke="#231f20" stroke-width="2.7" stroke-linejoin="round"/>
<path d="M407.6,395.9 V373.6 C408,370 411,367.8 416.8,367.5 H546.5 C551,367.8 554.2,370 554.7,374.4 V395.9 Z" fill="url(#gFl1)" stroke="#231f20" stroke-width="2.7" stroke-linejoin="round"/>
</svg>
</body></html>
